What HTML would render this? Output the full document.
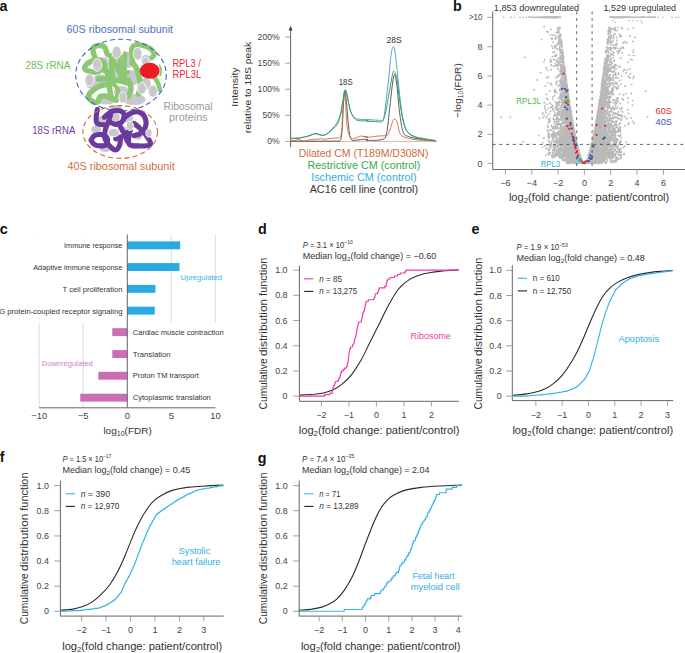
<!DOCTYPE html>
<html><head><meta charset="utf-8"><title>Figure</title>
<style>
html,body{margin:0;padding:0;background:#fff;}
body{width:685px;height:653px;overflow:hidden;}
svg{display:block;font-family:"Liberation Sans",sans-serif;}
</style></head>
<body>
<svg width="685" height="653" viewBox="0 0 685 653">
<rect width="685" height="653" fill="#fff"/>
<text x="-0.5" y="10.8" font-size="14.3" fill="#111" font-weight="bold">a</text>
<text x="453.0" y="10.5" font-size="14.3" fill="#111" font-weight="bold">b</text>
<text x="-0.3" y="234.2" font-size="14.3" fill="#111" font-weight="bold">c</text>
<text x="258.0" y="234.1" font-size="14.3" fill="#111" font-weight="bold">d</text>
<text x="471.6" y="234.4" font-size="14.3" fill="#111" font-weight="bold">e</text>
<text x="-0.3" y="461.9" font-size="14.3" fill="#111" font-weight="bold">f</text>
<text x="257.8" y="462.5" font-size="14.3" fill="#111" font-weight="bold">g</text>
<ellipse cx="117.5" cy="62.0" rx="8.0" ry="9.0" fill="#c9c9cd" stroke="none" stroke-width="0"/>
<ellipse cx="128.0" cy="60.0" rx="7.0" ry="8.0" fill="#c9c9cd" stroke="none" stroke-width="0"/>
<ellipse cx="104.0" cy="64.0" rx="5.0" ry="7.0" fill="#c9c9cd" stroke="none" stroke-width="0"/>
<ellipse cx="113.0" cy="75.0" rx="8.0" ry="8.0" fill="#c9c9cd" stroke="none" stroke-width="0"/>
<ellipse cx="131.0" cy="78.0" rx="8.0" ry="8.0" fill="#c9c9cd" stroke="none" stroke-width="0"/>
<ellipse cx="100.0" cy="80.0" rx="7.0" ry="6.0" fill="#c9c9cd" stroke="none" stroke-width="0"/>
<ellipse cx="106.0" cy="99.0" rx="10.0" ry="5.5" fill="#c9c9cd" stroke="none" stroke-width="0"/>
<ellipse cx="134.0" cy="99.5" rx="11.5" ry="5.5" fill="#c9c9cd" stroke="none" stroke-width="0"/>
<ellipse cx="122.0" cy="92.0" rx="8.0" ry="6.0" fill="#c9c9cd" stroke="none" stroke-width="0"/>
<ellipse cx="145.0" cy="84.0" rx="6.0" ry="6.0" fill="#c9c9cd" stroke="none" stroke-width="0"/>
<ellipse cx="92.0" cy="84.0" rx="6.0" ry="5.0" fill="#c9c9cd" stroke="none" stroke-width="0"/>
<ellipse cx="146.0" cy="60.0" rx="5.0" ry="5.0" fill="#c9c9cd" stroke="none" stroke-width="0"/>
<ellipse cx="153.0" cy="90.0" rx="5.0" ry="5.0" fill="#c9c9cd" stroke="none" stroke-width="0"/>
<path d="M95.1,57.7 C94.8,56.7 93.3,53.5 93.1,51.8 C92.9,50.0 92.8,48.2 93.8,47.2 C94.8,46.2 97.3,45.7 99.1,45.6 C100.8,45.5 103.1,45.7 104.3,46.6 C105.5,47.5 105.8,49.9 106.3,51.2 C106.8,52.5 106.7,53.7 107.6,54.5 C108.5,55.3 110.8,55.8 111.5,56.0" fill="none" stroke="#8cc873" stroke-width="5.5" stroke-linejoin="round" stroke-linecap="round"/>
<path d="M110.2,79.4 C109.5,78.0 107.4,73.6 106.3,70.9 C105.2,68.2 105.0,64.9 103.7,63.0 C102.4,61.1 100.4,60.0 98.4,59.7 C96.4,59.4 93.9,60.1 91.8,61.0 C89.7,61.9 87.2,63.7 86.0,65.0 C84.8,66.3 84.4,67.9 84.8,68.9 C85.2,69.9 86.9,70.5 88.5,71.0 C90.1,71.5 92.6,72.2 94.5,72.2 C96.4,72.2 98.8,71.1 99.7,70.9" fill="none" stroke="#8cc873" stroke-width="5.5" stroke-linejoin="round" stroke-linecap="round"/>
<path d="M100.5,60.5 C100.7,61.5 100.8,64.6 101.5,66.5 C102.2,68.4 104.0,71.1 104.5,72.0" fill="none" stroke="#8cc873" stroke-width="3.5" stroke-linejoin="round" stroke-linecap="round"/>
<path d="M111.5,56.0 C111.5,57.7 111.7,62.0 111.8,66.0 C111.9,70.0 112.0,77.7 112.0,80.0" fill="none" stroke="#8cc873" stroke-width="5.5" stroke-linejoin="round" stroke-linecap="round"/>
<path d="M119.5,55.0 C119.6,56.8 119.8,62.0 120.0,66.0 C120.2,70.0 120.4,76.8 120.5,79.0" fill="none" stroke="#8cc873" stroke-width="4.6" stroke-linejoin="round" stroke-linecap="round"/>
<path d="M125.0,53.5 C124.9,55.6 124.6,61.6 124.5,66.0 C124.4,70.4 124.5,77.7 124.5,80.0" fill="none" stroke="#8cc873" stroke-width="4.6" stroke-linejoin="round" stroke-linecap="round"/>
<path d="M116.0,50.5 C116.0,51.3 115.5,54.3 116.0,55.5 C116.5,56.7 118.5,57.2 119.0,57.5" fill="none" stroke="#8cc873" stroke-width="3.5" stroke-linejoin="round" stroke-linecap="round"/>
<path d="M98.4,79.3 C99.9,79.2 104.5,78.3 107.6,78.5 C110.7,78.7 113.9,79.7 116.8,80.3 C119.7,80.9 122.5,81.6 124.7,82.2 C126.9,82.8 129.1,83.7 130.0,84.0" fill="none" stroke="#8cc873" stroke-width="5.5" stroke-linejoin="round" stroke-linecap="round"/>
<path d="M112.9,83.5 C110.7,84.0 103.5,84.7 99.7,86.2 C95.9,87.7 92.0,90.9 90.2,92.7 C88.4,94.5 88.4,95.8 88.8,97.3 C89.2,98.8 91.1,100.7 92.5,101.5 C93.9,102.3 96.1,102.6 97.2,102.2 C98.3,101.8 98.6,100.2 99.1,99.3 C99.6,98.4 99.1,97.2 100.0,96.7 C100.9,96.2 102.6,95.8 104.3,96.0 C106.0,96.2 108.2,97.3 110.2,98.0 C112.2,98.7 115.5,99.8 116.5,100.2" fill="none" stroke="#8cc873" stroke-width="5.5" stroke-linejoin="round" stroke-linecap="round"/>
<path d="M108.9,78.0 C109.0,79.7 109.3,85.0 109.6,88.1 C109.9,91.2 110.7,95.3 110.9,96.7" fill="none" stroke="#8cc873" stroke-width="5.5" stroke-linejoin="round" stroke-linecap="round"/>
<path d="M132.5,64.0 C132.4,62.2 131.9,55.7 131.8,53.0 C131.7,50.3 131.4,49.2 132.0,47.9 C132.6,46.6 133.3,45.4 135.1,45.0 C136.9,44.6 140.4,44.9 143.0,45.6 C145.6,46.3 149.0,47.8 150.9,49.2 C152.8,50.6 154.0,52.4 154.2,53.8 C154.4,55.1 152.5,56.7 152.2,57.3" fill="none" stroke="#8cc873" stroke-width="5.2" stroke-linejoin="round" stroke-linecap="round"/>
<path d="M133.1,63.0 C133.8,64.1 136.0,66.9 137.1,69.6 C138.2,72.3 139.0,76.3 139.5,79.4 C140.0,82.5 140.2,85.6 140.0,88.0 C139.8,90.4 138.8,93.0 138.5,94.0" fill="none" stroke="#8cc873" stroke-width="5.5" stroke-linejoin="round" stroke-linecap="round"/>
<path d="M128.5,80.0 C128.9,81.3 130.9,85.5 131.0,88.0 C131.1,90.5 130.2,93.1 129.0,95.0 C127.8,96.9 124.8,98.8 124.0,99.5" fill="none" stroke="#8cc873" stroke-width="5.5" stroke-linejoin="round" stroke-linecap="round"/>
<path d="M153.0,76.0 C153.8,77.0 156.3,79.7 157.5,82.0 C158.7,84.3 159.6,88.7 160.0,90.0" fill="none" stroke="#8cc873" stroke-width="4.6" stroke-linejoin="round" stroke-linecap="round"/>
<path d="M113.5,60.0 C114.2,61.7 116.6,67.3 118.0,70.0 C119.4,72.7 120.3,75.7 122.0,76.0 C123.7,76.3 127.0,72.7 128.0,72.0" fill="none" stroke="#8cc873" stroke-width="4.2" stroke-linejoin="round" stroke-linecap="round"/>
<path d="M114.0,84.0 C114.7,85.0 117.5,88.0 118.0,90.0 C118.5,92.0 117.2,95.0 117.0,96.0" fill="none" stroke="#8cc873" stroke-width="4.2" stroke-linejoin="round" stroke-linecap="round"/>
<path d="M159.6,65.2 C159.9,66.0 161.1,68.5 161.2,70.2 C161.3,71.9 160.4,74.6 160.2,75.5" fill="none" stroke="#8cc873" stroke-width="1.8" stroke-linejoin="round" stroke-linecap="round"/>
<ellipse cx="116.6" cy="52.4" rx="4.6" ry="6.2" fill="#c9c9cd" stroke="#fff" stroke-width="0.8"/>
<ellipse cx="137.6" cy="53.8" rx="4.4" ry="6.4" fill="#c9c9cd" stroke="#fff" stroke-width="0.8"/>
<ellipse cx="97.2" cy="65.0" rx="4.6" ry="6.3" fill="#c9c9cd" stroke="#fff" stroke-width="0.8"/>
<ellipse cx="89.4" cy="80.0" rx="4.6" ry="6.0" fill="#c9c9cd" stroke="#fff" stroke-width="0.8"/>
<ellipse cx="141.9" cy="88.3" rx="4.4" ry="5.9" fill="#c9c9cd" stroke="#fff" stroke-width="0.8"/>
<ellipse cx="152.8" cy="91.2" rx="4.6" ry="6.0" fill="#c9c9cd" stroke="#fff" stroke-width="0.8"/>
<ellipse cx="122.8" cy="97.5" rx="4.1" ry="5.6" fill="#c9c9cd" stroke="#fff" stroke-width="0.8"/>
<ellipse cx="145.5" cy="61.5" rx="3.8" ry="4.5" fill="#c9c9cd" stroke="#fff" stroke-width="0.8"/>
<ellipse cx="97.6" cy="68.0" rx="0.1" ry="0.1" fill="#c9c9cd" stroke="#fff" stroke-width="0.8"/>
<ellipse cx="149.7" cy="70.8" rx="10.0" ry="8.0" fill="#ec1c24" stroke="none" stroke-width="0"/>
<ellipse cx="121" cy="75" rx="45.3" ry="35.8" fill="none" stroke="#3f68b8" stroke-width="1.1" stroke-dasharray="5 3.2"/>
<ellipse cx="96.2" cy="129.5" rx="5.1" ry="4.1" fill="#c9c9cd" stroke="none" stroke-width="0"/>
<ellipse cx="105.4" cy="148.9" rx="6.1" ry="3.1" fill="#c9c9cd" stroke="none" stroke-width="0"/>
<ellipse cx="134.0" cy="145.9" rx="6.1" ry="3.1" fill="#c9c9cd" stroke="none" stroke-width="0"/>
<ellipse cx="115.7" cy="108.1" rx="6.1" ry="3.1" fill="#c9c9cd" stroke="none" stroke-width="0"/>
<ellipse cx="127.9" cy="118.3" rx="5.1" ry="4.6" fill="#c9c9cd" stroke="none" stroke-width="0"/>
<ellipse cx="118.7" cy="138.7" rx="5.1" ry="4.1" fill="#c9c9cd" stroke="none" stroke-width="0"/>
<ellipse cx="138.1" cy="135.7" rx="4.1" ry="4.1" fill="#c9c9cd" stroke="none" stroke-width="0"/>
<ellipse cx="115.7" cy="117.3" rx="4.1" ry="4.1" fill="#c9c9cd" stroke="none" stroke-width="0"/>
<ellipse cx="101.3" cy="120.3" rx="4.1" ry="4.1" fill="#c9c9cd" stroke="none" stroke-width="0"/>
<ellipse cx="123.8" cy="130.5" rx="4.1" ry="4.1" fill="#c9c9cd" stroke="none" stroke-width="0"/>
<path d="M97.3,109.6 C97.1,110.9 96.2,115.0 96.2,117.3 C96.2,119.6 95.7,122.1 97.3,123.4 C98.8,124.7 104.1,124.7 105.4,124.9" fill="none" stroke="#6a3a9e" stroke-width="5.1" stroke-linejoin="round" stroke-linecap="round"/>
<path d="M104.4,117.3 C105.6,116.3 108.8,112.7 111.6,111.6 C114.3,110.6 118.6,110.4 120.8,111.1 C122.9,111.9 124.3,114.3 124.3,116.2 C124.3,118.2 122.2,121.5 120.8,122.9 C119.3,124.2 117.4,124.5 115.7,124.4 C114.0,124.3 111.4,122.7 110.5,122.4" fill="none" stroke="#6a3a9e" stroke-width="5.1" stroke-linejoin="round" stroke-linecap="round"/>
<path d="M110.5,115.2 C110.2,116.2 109.4,119.0 108.5,121.3 C107.7,123.7 106.0,126.6 105.4,129.5 C104.8,132.4 104.2,136.0 104.9,138.7 C105.6,141.4 107.7,144.0 109.5,145.9 C111.3,147.7 114.0,150.1 115.7,150.0 C117.4,149.8 119.0,146.7 119.7,144.9 C120.5,143.0 120.2,139.7 120.3,138.7" fill="none" stroke="#6a3a9e" stroke-width="5.1" stroke-linejoin="round" stroke-linecap="round"/>
<path d="M91.1,140.3 C91.6,139.5 92.5,136.6 94.2,135.7 C95.9,134.7 99.2,134.3 101.3,134.6 C103.5,135.0 106.1,136.1 107.0,137.7 C107.8,139.3 107.6,143.0 106.5,144.3 C105.4,145.7 102.4,145.9 100.3,145.9 C98.3,145.9 95.7,145.3 94.2,144.3 C92.7,143.4 91.6,140.9 91.1,140.3" fill="none" stroke="#6a3a9e" stroke-width="5.1" stroke-linejoin="round" stroke-linecap="round"/>
<path d="M123.8,118.3 C125.0,117.4 128.4,114.2 131.0,113.2 C133.5,112.2 136.8,111.3 139.2,112.2 C141.5,113.0 144.3,115.7 145.3,118.3 C146.3,120.8 146.1,124.9 145.3,127.5 C144.4,130.0 142.1,132.2 140.2,133.6 C138.3,135.0 135.1,135.3 134.0,135.7" fill="none" stroke="#6a3a9e" stroke-width="5.1" stroke-linejoin="round" stroke-linecap="round"/>
<path d="M130.0,130.5 C129.8,132.8 127.6,141.3 128.9,143.8 C130.3,146.4 134.6,145.8 138.1,145.9 C141.7,146.0 149.0,146.0 150.4,144.3 C151.8,142.6 148.0,138.3 146.3,135.7 C144.6,133.0 142.2,130.5 140.2,128.5 C138.1,126.5 135.1,124.2 134.0,123.4" fill="none" stroke="#6a3a9e" stroke-width="5.1" stroke-linejoin="round" stroke-linecap="round"/>
<path d="M118.7,123.4 C119.2,124.4 120.6,127.5 121.8,129.5 C123.0,131.6 125.0,133.8 125.9,135.7 C126.7,137.5 126.7,139.9 126.9,140.8" fill="none" stroke="#6a3a9e" stroke-width="5.1" stroke-linejoin="round" stroke-linecap="round"/>
<path d="M115.7,138.7 C117.0,138.2 121.4,137.0 123.8,135.7 C126.2,134.3 128.9,131.4 130.0,130.5" fill="none" stroke="#6a3a9e" stroke-width="5.1" stroke-linejoin="round" stroke-linecap="round"/>
<ellipse cx="113.6" cy="132.6" rx="5.6" ry="4.3" fill="#c9c9cd" stroke="#fff" stroke-width="0.8"/>
<ellipse cx="130.0" cy="125.9" rx="3.6" ry="4.6" fill="#c9c9cd" stroke="#fff" stroke-width="0.8"/>
<ellipse cx="148.9" cy="133.1" rx="3.1" ry="4.1" fill="#c9c9cd" stroke="#fff" stroke-width="0.8"/>
<ellipse cx="120.2" cy="132" rx="37.3" ry="26.4" fill="none" stroke="#cf6b3f" stroke-width="1.1" stroke-dasharray="5 3.2"/>
<text x="66.6" y="32.9" font-size="10.3" fill="#4f74bf" textLength="106.5" lengthAdjust="spacingAndGlyphs">60S ribosomal subunit</text>
<text x="25.5" y="68.5" font-size="10.3" fill="#6dbd59" textLength="45.0" lengthAdjust="spacingAndGlyphs">28S rRNA</text>
<text x="172.4" y="66.6" font-size="10.3" fill="#ec2a30" textLength="28.5" lengthAdjust="spacingAndGlyphs">RPL3 /</text>
<text x="172.4" y="78.3" font-size="10.3" fill="#ec2a30" textLength="29.0" lengthAdjust="spacingAndGlyphs">RPL3L</text>
<text x="163.5" y="109.5" font-size="10.3" fill="#9a9a9a" textLength="49.0" lengthAdjust="spacingAndGlyphs">Ribosomal</text>
<text x="169.0" y="121.2" font-size="10.3" fill="#9a9a9a" textLength="38.6" lengthAdjust="spacingAndGlyphs">proteins</text>
<text x="32.3" y="134.0" font-size="10.3" fill="#7040a8" textLength="43.0" lengthAdjust="spacingAndGlyphs">18S rRNA</text>
<text x="67.5" y="169.6" font-size="10.3" fill="#cf6e44" textLength="107.3" lengthAdjust="spacingAndGlyphs">40S ribosomal subunit</text>
<line x1="290.6" y1="29.0" x2="290.6" y2="147.2" stroke="#555" stroke-width="0.9"/>
<path d="M288.6,30.5 L290.6,25.8 L292.6,30.5 Z" fill="#444"/>
<line x1="285.3" y1="141.4" x2="290.6" y2="141.4" stroke="#8a8a8a" stroke-width="0.8"/>
<text x="279.6" y="144.4" font-size="8.6" fill="#444" text-anchor="end" textLength="12.4" lengthAdjust="spacingAndGlyphs">0%</text>
<line x1="285.3" y1="115.3" x2="290.6" y2="115.3" stroke="#8a8a8a" stroke-width="0.8"/>
<text x="279.6" y="118.3" font-size="8.6" fill="#444" text-anchor="end" textLength="17.2" lengthAdjust="spacingAndGlyphs">50%</text>
<line x1="285.3" y1="89.2" x2="290.6" y2="89.2" stroke="#8a8a8a" stroke-width="0.8"/>
<text x="279.6" y="92.2" font-size="8.6" fill="#444" text-anchor="end" textLength="22.0" lengthAdjust="spacingAndGlyphs">100%</text>
<line x1="285.3" y1="63.2" x2="290.6" y2="63.2" stroke="#8a8a8a" stroke-width="0.8"/>
<text x="279.6" y="66.2" font-size="8.6" fill="#444" text-anchor="end" textLength="22.0" lengthAdjust="spacingAndGlyphs">150%</text>
<line x1="285.3" y1="37.1" x2="290.6" y2="37.1" stroke="#8a8a8a" stroke-width="0.8"/>
<text x="279.6" y="40.1" font-size="8.6" fill="#444" text-anchor="end" textLength="22.0" lengthAdjust="spacingAndGlyphs">200%</text>
<text x="238.1" y="87.0" font-size="9.8" fill="#333" text-anchor="middle" textLength="39.3" lengthAdjust="spacingAndGlyphs" transform="rotate(-90 238.1 87.0)">Intensity</text>
<text x="251.3" y="87.5" font-size="9.8" fill="#333" text-anchor="middle" textLength="91.4" lengthAdjust="spacingAndGlyphs" transform="rotate(-90 251.3 87.5)">relative to 18S peak</text>
<line x1="290.6" y1="141.4" x2="437.0" y2="141.4" stroke="#c9a58e" stroke-width="0.8"/>
<path d="M290.6,141.2 C294.0,141.2 304.0,141.2 311.4,141.2 C318.7,141.2 330.0,141.1 334.7,141.1 C339.4,141.1 338.3,141.5 339.4,141.0 C340.5,140.5 340.7,140.3 341.1,138.1 C341.6,135.8 341.9,133.2 342.3,127.6 C342.7,121.9 343.0,110.2 343.5,104.2 C343.9,98.2 344.5,91.7 345.0,91.4 C345.5,91.0 345.9,96.8 346.4,101.9 C346.9,106.9 347.6,116.1 348.1,121.7 C348.7,127.4 349.3,132.7 349.9,135.7 C350.5,138.7 351.1,139.0 351.6,139.8 C352.2,140.6 351.6,140.5 353.4,140.4 C355.3,140.3 360.3,139.6 362.7,139.5 C365.2,139.3 367.3,139.3 368.0,139.5 C368.7,139.6 364.9,140.3 367.0,140.3 C369.2,140.3 377.9,140.7 381.1,139.6 C384.4,138.5 385.0,139.6 386.4,134.0 C387.9,128.3 388.9,114.3 390.0,105.8 C391.0,97.3 391.8,88.1 392.6,82.9 C393.4,77.6 394.0,73.8 394.7,74.4 C395.4,75.0 396.2,80.0 397.0,86.4 C397.8,92.8 398.6,105.2 399.6,112.8 C400.7,120.5 401.6,128.2 403.2,132.2 C404.8,136.2 406.3,135.6 409.3,136.8 C412.4,138.0 417.3,138.6 421.7,139.3 C426.1,139.9 433.4,140.3 435.8,140.5" fill="none" stroke="#333" stroke-width="0.8" stroke-linejoin="round"/>
<path d="M290.6,140.6 C291.3,140.6 293.7,140.6 295.0,140.4 C296.3,140.2 297.1,139.4 298.5,139.5 C299.9,139.6 301.6,141.0 303.2,141.1 C304.7,141.2 306.3,140.4 307.9,140.2 C309.4,139.9 310.8,139.7 312.5,139.5 C314.3,139.3 316.8,139.1 318.4,139.0 C319.9,138.9 320.9,138.6 321.9,138.6 C322.8,138.7 323.0,139.2 324.2,139.2 C325.4,139.2 327.1,138.8 328.9,138.6 C330.6,138.5 333.2,138.2 334.7,138.1 C336.3,138.0 337.2,138.4 338.2,138.1 C339.2,137.7 339.9,137.5 340.6,136.0 C341.2,134.4 341.6,133.0 342.0,128.7 C342.3,124.4 342.4,116.5 342.9,110.0 C343.3,103.6 344.1,90.2 344.6,90.2 C345.2,90.2 345.7,104.2 346.0,110.0 C346.4,115.9 346.6,121.5 347.0,125.2 C347.3,128.9 347.5,130.1 348.1,132.2 C348.8,134.4 350.2,137.0 351.1,138.1 C351.9,139.2 352.2,139.0 353.4,138.8 C354.6,138.6 356.7,137.3 358.1,136.9 C359.4,136.5 359.9,136.0 361.6,136.1 C363.2,136.1 367.7,137.2 368.0,137.2 C368.3,137.3 363.1,136.6 363.5,136.6 C364.0,136.6 368.2,137.2 370.6,137.1 C372.9,137.0 375.0,136.4 377.6,136.1 C380.3,135.8 384.5,136.0 386.4,135.4 C388.3,134.7 388.0,134.5 389.1,132.2 C390.1,129.9 391.7,123.8 392.6,121.6 C393.5,119.4 393.6,119.0 394.4,119.0 C395.1,119.0 396.1,119.4 397.0,121.6 C397.9,123.8 398.6,129.7 399.6,132.2 C400.7,134.7 401.0,135.4 403.2,136.6 C405.4,137.8 409.5,138.6 412.9,139.3 C416.2,139.9 419.6,140.0 423.4,140.3 C427.3,140.6 433.7,140.9 435.8,141.0" fill="none" stroke="#d0683c" stroke-width="0.9" stroke-linejoin="round"/>
<path d="M290.6,138.1 C292.1,138.0 296.6,138.2 299.7,137.8 C302.8,137.5 306.4,136.6 309.0,136.0 C311.6,135.3 313.3,134.1 315.4,134.0 C317.6,133.9 320.0,135.4 321.9,135.5 C323.7,135.6 325.0,135.1 326.5,134.3 C328.1,133.5 329.5,132.4 331.2,130.8 C333.0,129.2 335.5,127.2 337.1,124.6 C338.6,122.0 339.6,119.2 340.6,115.3 C341.5,111.4 342.2,105.5 342.9,101.3 C343.6,97.1 344.3,91.3 345.0,90.2 C345.7,89.1 346.2,91.7 347.0,94.9 C347.8,98.0 348.8,105.3 349.9,108.9 C351.0,112.5 352.0,114.7 353.4,116.5 C354.8,118.2 355.6,118.6 358.1,119.1 C360.5,119.7 366.5,119.7 368.0,119.7 C369.5,119.8 365.4,119.4 367.0,119.5 C368.7,119.6 375.3,120.1 377.6,120.2 C380.0,120.3 380.1,120.6 381.1,120.2 C382.2,119.9 382.6,124.3 383.8,118.1 C385.0,111.9 387.0,93.1 388.2,82.9 C389.4,72.6 390.0,62.5 390.8,56.4 C391.7,50.4 392.4,47.3 393.1,46.7 C393.9,46.2 394.4,47.8 395.2,52.9 C396.0,58.0 396.9,68.2 397.9,77.6 C398.9,87.0 400.1,100.8 401.4,109.3 C402.7,117.8 403.9,124.3 405.8,128.7 C407.7,133.1 409.9,134.1 412.9,135.7 C415.8,137.3 419.6,137.5 423.4,138.4 C427.3,139.2 433.7,140.3 435.8,140.7" fill="none" stroke="#4ba7d9" stroke-width="1.0" stroke-linejoin="round"/>
<path d="M290.6,138.6 C292.1,138.6 296.6,138.6 299.7,138.1 C302.8,137.6 306.4,136.5 309.0,135.7 C311.6,135.0 313.3,133.5 315.4,133.4 C317.6,133.3 320.0,135.0 321.9,135.1 C323.7,135.2 325.0,134.9 326.5,134.0 C328.1,133.1 329.5,131.7 331.2,129.9 C333.0,128.0 335.5,125.6 337.1,122.9 C338.6,120.2 339.6,117.2 340.6,113.5 C341.5,109.8 342.2,104.6 342.9,100.7 C343.6,96.8 344.3,91.2 345.0,90.2 C345.7,89.2 346.2,91.7 347.0,94.9 C347.8,98.0 348.8,105.2 349.9,108.9 C351.0,112.6 352.0,115.1 353.4,117.0 C354.8,119.0 355.6,119.9 358.1,120.5 C360.5,121.2 366.5,120.7 368.0,120.8 C369.5,120.9 365.4,121.1 367.0,121.3 C368.7,121.4 375.3,121.5 377.6,121.6 C379.9,121.7 379.6,122.9 380.8,122.0 C382.0,121.1 383.3,121.1 384.7,116.3 C386.0,111.6 387.8,100.5 389.1,93.4 C390.4,86.4 391.7,77.7 392.6,74.1 C393.5,70.4 393.6,70.9 394.4,71.8 C395.1,72.6 396.1,74.6 397.0,79.3 C397.9,84.1 398.6,93.4 399.6,100.5 C400.7,107.5 401.9,116.3 403.2,121.6 C404.5,126.9 405.4,129.6 407.6,132.2 C409.8,134.8 411.7,136.0 416.4,137.5 C421.1,139.0 432.5,140.4 435.8,141.0" fill="none" stroke="#3f9e4f" stroke-width="1.0" stroke-linejoin="round"/>
<text x="338.7" y="84.6" font-size="8.8" fill="#333" textLength="14.0" lengthAdjust="spacingAndGlyphs">18S</text>
<text x="386.6" y="42.5" font-size="8.8" fill="#333" textLength="15.2" lengthAdjust="spacingAndGlyphs">28S</text>
<text x="363.6" y="157.1" font-size="10.4" fill="#cf6a40" text-anchor="middle" textLength="129.6" lengthAdjust="spacingAndGlyphs">Dilated CM (T189M/D308N)</text>
<text x="363.9" y="168.9" font-size="10.4" fill="#3aa650" text-anchor="middle" textLength="112.8" lengthAdjust="spacingAndGlyphs">Restrictive CM (control)</text>
<text x="363.9" y="181.2" font-size="10.4" fill="#35ace2" text-anchor="middle" textLength="105.4" lengthAdjust="spacingAndGlyphs">Ischemic CM (control)</text>
<text x="363.9" y="192.5" font-size="10.4" fill="#333" text-anchor="middle" textLength="108.4" lengthAdjust="spacingAndGlyphs">AC16 cell line (control)</text>
<path d="M570.5 153.6h0M588.0 158.3h0M588.4 157.1h0M589.7 155.0h0M575.3 159.4h0M572.7 150.6h0M567.2 87.2h0M564.3 125.9h0M589.7 162.6h0M580.9 160.4h0M576.2 141.0h0M588.6 162.5h0M584.2 163.2h0M579.6 161.5h0M577.6 146.5h0M587.2 160.0h0M600.3 157.9h0M593.0 137.7h0M577.9 160.2h0M601.8 95.4h0M598.7 118.4h0M579.7 159.9h0M581.7 160.3h0M595.1 139.9h0M594.5 136.9h0M584.7 163.0h0M604.1 143.5h0M558.4 98.4h0M573.0 159.3h0M554.6 128.5h0M570.9 119.7h0M587.6 163.1h0M576.8 144.8h0M602.6 91.1h0M556.9 108.2h0M597.1 126.7h0M589.6 153.2h0M589.0 160.4h0M592.8 145.2h0M622.1 52.7h0M579.2 154.3h0M587.5 159.2h0M583.3 163.0h0M559.7 112.2h0M575.4 150.7h0M571.5 154.3h0M579.6 156.4h0M591.2 163.1h0M572.8 124.1h0M566.7 140.9h0M579.4 155.1h0M591.2 157.5h0M561.0 87.7h0M599.8 154.3h0M572.1 137.7h0M592.9 162.9h0M586.6 163.1h0M570.1 130.1h0M595.1 129.2h0M579.6 153.2h0M578.5 153.0h0M603.2 93.6h0M579.2 152.2h0M596.2 148.0h0M593.3 141.1h0M585.6 162.6h0M588.5 159.4h0M559.9 50.5h0M599.7 115.0h0M559.1 98.1h0M610.4 151.7h0M581.9 162.2h0M578.3 150.4h0M580.3 162.3h0M570.3 133.8h0M587.3 162.2h0M572.8 136.1h0M591.9 144.7h0M567.3 150.4h0M568.1 118.8h0M608.9 102.5h0M578.0 161.5h0M603.1 108.2h0M604.1 93.5h0M588.3 160.5h0M594.5 151.6h0M603.5 156.7h0M590.7 149.5h0M574.7 152.4h0M585.4 163.2h0M570.4 126.3h0M580.3 163.1h0M578.3 163.3h0M571.2 156.2h0M571.6 115.8h0M552.1 39.2h0M590.9 159.2h0M577.5 150.3h0M595.7 127.8h0M588.9 155.4h0M581.3 159.2h0M567.2 110.7h0M590.8 147.3h0M598.4 144.2h0M568.3 151.1h0M587.6 161.0h0M590.8 161.0h0M600.7 99.9h0M573.2 139.4h0M570.9 147.7h0M559.3 131.8h0M580.4 158.7h0M579.0 159.6h0M589.5 155.7h0M591.6 145.7h0M584.7 162.8h0M577.8 155.5h0M571.4 131.5h0M566.8 118.4h0M574.4 142.0h0M579.8 156.6h0M620.0 103.6h0M595.0 149.8h0M573.7 157.2h0M597.9 151.4h0M586.8 163.3h0M577.1 148.3h0M590.7 152.7h0M570.0 106.8h0M591.0 154.4h0M597.0 120.5h0M589.6 163.0h0M558.1 109.7h0M593.6 153.1h0M589.8 160.9h0M580.8 163.3h0M607.0 124.2h0M582.2 162.7h0M607.7 66.3h0M577.7 148.0h0M599.2 133.4h0M568.8 153.5h0M570.3 156.9h0M588.6 157.9h0M607.0 119.6h0M568.4 144.1h0M577.6 145.3h0M572.1 146.3h0M595.4 137.3h0M592.6 141.2h0M558.3 144.1h0M573.3 144.6h0M576.0 158.0h0M597.2 144.0h0M589.6 158.9h0M602.3 109.3h0M599.8 110.4h0M580.5 158.3h0M603.8 89.7h0M581.8 161.9h0M594.6 136.4h0M595.4 125.6h0M568.5 148.3h0M589.3 158.6h0M577.7 160.6h0M594.4 152.9h0M568.4 114.9h0M566.8 106.8h0M602.0 134.8h0M596.0 129.1h0M579.2 152.9h0M593.3 158.4h0M610.9 62.3h0M574.6 134.8h0M592.4 157.0h0M596.4 133.9h0M582.2 161.4h0M587.6 161.3h0M583.3 162.6h0M572.9 124.8h0M597.3 159.9h0M596.9 125.1h0M598.1 116.7h0M571.5 118.0h0M590.7 158.8h0M586.4 161.6h0M588.3 162.3h0M565.6 147.8h0M578.4 155.2h0M591.3 151.8h0M592.5 143.2h0M595.4 151.6h0M598.2 147.1h0M578.8 154.3h0M597.3 155.4h0M598.9 123.5h0M563.4 155.4h0M590.8 149.0h0M607.9 134.8h0M575.3 143.9h0M601.2 108.0h0M572.6 138.1h0M575.6 150.7h0M594.9 135.9h0M575.4 148.3h0M581.8 160.8h0M608.0 101.4h0M590.3 152.1h0M582.6 163.3h0M592.7 162.7h0M573.1 140.9h0M576.4 151.2h0M567.0 107.7h0M575.8 143.1h0M573.3 125.6h0M596.7 127.4h0M595.7 139.1h0M603.0 115.5h0M601.8 113.5h0M580.1 159.1h0M571.8 156.9h0M592.6 153.7h0M604.6 138.9h0M610.6 44.5h0M590.8 161.1h0M581.6 163.4h0M593.3 149.0h0M564.1 78.7h0M598.2 124.8h0M593.5 149.8h0M613.0 40.1h0M578.6 152.2h0M588.9 162.8h0M566.6 142.2h0M569.1 109.8h0M597.6 112.3h0M572.5 130.5h0M594.9 163.0h0M597.8 129.7h0M593.0 139.2h0M600.2 111.2h0M598.5 134.7h0M581.1 159.5h0M594.4 140.1h0M589.0 162.0h0M588.2 157.8h0M592.3 162.4h0M572.0 122.0h0M557.1 61.8h0M563.9 152.5h0M592.0 161.8h0M574.1 136.9h0M578.4 161.2h0M557.9 150.0h0M596.5 147.2h0M571.5 121.3h0M568.0 106.4h0M598.1 155.8h0M572.5 133.1h0M593.6 136.6h0M573.1 150.9h0M610.5 145.8h0M573.1 125.8h0M610.8 157.0h0M592.7 145.8h0M570.0 123.4h0M602.1 144.4h0M603.2 81.5h0M598.2 159.7h0M574.9 149.4h0M592.2 147.1h0M580.4 159.9h0M602.4 135.1h0M576.0 145.7h0M590.0 155.4h0M591.3 146.3h0M569.7 107.9h0M602.4 117.6h0M571.8 129.1h0M591.0 150.4h0M598.4 117.9h0M596.9 159.8h0M572.2 118.7h0M592.0 143.0h0M594.2 142.9h0M621.7 107.6h0M593.0 152.7h0M600.3 105.8h0M566.6 91.3h0M577.2 152.7h0M595.5 134.1h0M572.4 131.6h0M575.6 157.5h0M594.6 142.6h0M571.6 155.6h0M600.7 140.5h0M575.6 143.4h0M592.3 146.4h0M590.8 150.9h0M619.6 115.3h0M568.9 145.2h0M568.4 114.3h0M618.6 66.4h0M603.8 75.6h0M594.1 160.8h0M577.6 156.4h0M592.2 155.8h0M578.2 148.0h0M572.0 124.6h0M598.0 134.5h0M564.1 150.8h0M605.1 151.3h0M598.0 124.0h0M592.0 161.1h0M599.4 108.8h0M597.3 119.6h0M580.8 162.5h0M567.2 156.7h0M559.3 37.1h0M605.0 91.4h0M604.3 118.7h0M557.1 113.3h0M570.5 109.7h0M579.3 158.2h0M593.7 141.5h0M592.5 157.8h0M571.6 137.8h0M596.4 119.6h0M603.2 85.4h0M592.8 148.1h0M580.7 162.0h0M599.9 134.0h0M594.8 144.1h0M593.0 142.0h0M607.6 92.7h0M588.6 159.9h0M595.7 123.9h0M569.8 124.2h0M579.1 160.6h0M570.2 135.7h0M574.9 136.8h0M564.4 122.9h0M570.5 162.3h0M578.5 153.5h0M587.4 161.8h0M555.2 126.3h0M619.1 124.3h0M571.6 124.8h0M598.0 133.9h0M576.3 147.1h0M557.1 44.6h0M566.1 116.5h0M591.1 156.3h0M554.0 17.0h0M570.5 159.6h0M589.8 153.0h0M576.8 148.5h0M607.5 87.9h0M592.1 154.7h0M590.4 156.3h0M596.4 123.1h0M619.7 17.1h0M561.9 89.2h0M597.2 143.5h0M576.2 153.4h0M572.2 138.0h0M565.7 147.5h0M575.9 140.0h0M580.1 157.7h0M554.7 132.7h0M570.1 127.5h0M610.1 70.8h0M588.2 159.8h0M605.4 87.5h0M604.4 95.1h0M593.3 160.6h0M602.6 132.2h0M575.7 159.2h0M561.3 139.0h0M599.6 99.5h0M591.9 153.6h0M559.6 135.1h0M594.5 147.9h0M591.4 160.0h0M591.0 157.0h0M586.4 162.3h0M568.2 137.8h0M594.3 160.0h0M599.8 149.2h0M592.3 149.0h0M599.5 158.0h0M557.0 145.9h0M552.9 17.6h0M598.4 111.0h0M593.4 145.8h0M608.3 48.0h0M591.8 152.4h0M568.2 145.8h0M575.9 149.0h0M590.3 158.8h0M599.8 130.5h0M588.1 158.9h0M598.4 137.5h0M597.3 117.6h0M558.4 155.4h0M589.4 157.0h0M608.7 152.5h0M560.3 149.1h0M589.1 156.4h0M570.5 108.0h0M600.2 101.6h0M574.4 135.3h0M617.0 147.5h0M547.1 17.5h0M595.2 128.4h0M567.6 90.9h0M601.3 133.4h0M603.2 108.6h0M565.0 126.7h0M572.0 134.0h0M593.4 137.6h0M576.5 141.9h0M550.6 111.5h0M593.8 155.3h0M578.7 150.9h0M603.2 154.5h0M590.0 159.6h0M561.8 68.4h0M596.1 141.7h0M594.2 163.2h0M612.4 128.7h0M561.1 46.3h0M604.3 80.6h0M593.2 151.3h0M595.7 124.8h0M611.7 147.9h0M594.6 141.9h0M567.9 107.6h0M594.4 162.6h0M596.5 148.3h0M599.1 106.3h0M562.6 110.5h0M603.7 109.8h0M598.0 145.8h0M598.3 145.5h0M565.1 155.1h0M589.2 154.3h0M570.4 118.9h0M572.8 131.3h0M597.4 115.4h0M605.8 102.1h0M602.9 151.2h0M592.8 149.5h0M567.4 99.6h0M565.2 145.5h0M567.9 136.1h0M593.1 147.5h0M577.4 156.0h0M596.1 137.0h0M577.4 151.2h0M569.3 150.4h0M576.5 145.8h0M605.6 115.8h0M577.1 153.2h0M559.2 149.5h0M602.6 96.2h0M599.8 111.9h0M579.0 161.7h0M578.8 151.2h0M597.0 127.7h0M557.6 17.3h0M593.5 145.1h0M563.0 148.4h0M601.8 125.3h0M570.8 151.2h0M563.9 95.4h0M577.3 144.3h0M582.1 160.5h0M562.6 117.3h0M564.2 131.8h0M572.7 127.0h0M551.6 38.8h0M571.6 122.9h0M600.8 95.5h0M570.3 121.1h0M548.7 150.0h0M602.2 90.6h0M575.2 153.3h0M597.4 137.4h0M614.9 124.1h0M593.7 139.2h0M576.9 162.6h0M570.3 144.3h0M593.5 163.0h0M595.2 134.9h0M583.8 162.7h0M574.6 132.2h0M594.7 129.5h0M572.1 162.9h0M571.7 147.3h0M588.6 158.2h0M589.7 157.9h0M597.4 147.7h0M568.2 93.2h0M591.8 143.9h0M578.8 149.6h0M597.2 127.6h0M619.2 152.2h0M579.6 161.2h0M563.8 123.1h0M590.0 162.8h0M591.3 148.7h0M595.1 141.6h0M594.3 134.7h0M568.4 156.4h0M612.1 63.5h0M598.8 128.0h0M569.5 126.1h0M594.4 137.9h0M594.5 147.5h0M574.2 157.6h0M598.1 127.3h0M577.1 152.2h0M574.0 135.7h0M573.1 156.6h0M549.1 120.7h0M595.1 131.3h0M555.6 35.4h0M592.5 159.5h0M575.0 155.3h0M617.9 146.0h0M570.1 124.9h0M557.4 49.0h0M593.1 146.2h0M593.3 138.1h0M601.1 144.4h0M561.7 158.2h0M609.2 64.3h0M609.1 27.7h0M574.0 159.0h0M576.9 142.6h0M578.8 163.2h0M580.4 156.5h0M609.2 41.3h0M574.0 136.8h0M600.9 103.9h0M590.9 151.1h0M613.9 151.6h0M560.9 79.7h0M575.5 138.5h0M571.5 158.8h0M596.9 131.2h0M611.6 151.2h0M571.9 127.9h0M592.4 151.5h0M575.7 152.5h0M578.8 159.9h0M600.8 120.2h0M571.9 120.7h0M601.5 119.6h0M570.7 131.9h0M602.5 84.9h0M599.8 104.7h0M592.5 150.9h0M560.1 157.7h0M579.3 162.7h0M602.0 159.9h0M574.0 140.2h0M576.1 141.4h0M573.6 142.6h0M568.8 143.4h0M576.1 144.7h0M570.0 133.5h0M576.8 149.8h0M591.2 148.2h0M597.0 134.0h0M566.3 83.4h0M552.6 137.1h0M578.2 162.5h0M594.1 159.2h0M590.4 153.6h0M602.5 162.9h0M570.9 150.8h0M572.8 159.9h0M571.4 124.0h0M571.5 141.0h0M576.7 154.3h0M614.9 149.8h0M592.3 158.6h0M549.8 146.3h0M595.8 122.9h0M573.3 128.5h0M602.8 102.3h0M579.6 155.5h0M590.9 147.2h0M556.4 153.8h0M553.6 151.5h0M607.4 151.3h0M594.4 134.8h0M606.5 59.3h0M597.5 116.0h0M576.8 158.6h0M597.3 152.4h0M601.2 150.0h0M599.6 109.9h0M571.5 153.9h0M594.1 133.6h0M641.4 17.1h0M600.0 100.9h0M591.6 158.6h0M569.6 119.6h0M609.5 114.7h0M574.1 139.1h0M606.9 135.6h0M598.5 151.3h0M565.6 76.7h0M580.1 154.6h0M577.5 158.7h0M568.5 154.4h0M600.6 157.4h0M606.6 112.0h0M594.8 138.6h0M545.9 155.2h0M609.3 69.2h0M571.9 140.5h0M600.9 112.7h0M602.0 89.0h0M593.7 135.2h0M568.6 112.2h0M571.7 122.0h0M552.5 156.0h0M565.6 143.7h0M589.1 154.8h0M592.1 155.4h0M550.4 145.3h0M566.9 124.9h0M570.2 152.3h0M598.3 150.6h0M573.7 149.9h0M573.7 131.4h0M597.7 134.8h0M613.9 52.9h0M614.3 34.1h0M604.5 105.0h0M594.5 139.3h0M601.5 97.3h0M600.7 129.9h0M588.6 156.4h0M588.4 156.3h0M559.2 61.6h0M559.9 74.4h0M599.0 153.7h0M560.3 151.1h0M562.8 114.5h0M577.0 146.3h0M597.3 124.0h0M597.4 141.6h0M605.0 95.8h0M576.2 143.9h0M567.8 142.7h0M615.1 105.1h0M577.4 153.0h0M592.6 139.8h0M596.8 120.1h0M605.2 60.5h0M606.2 129.6h0M592.8 155.3h0M573.3 132.3h0M557.6 127.8h0M606.5 128.0h0M598.5 128.5h0M574.2 132.6h0M593.6 146.8h0M570.2 113.6h0M595.6 159.8h0M573.7 162.8h0M601.9 128.3h0M570.5 138.5h0M601.4 132.3h0M620.1 128.8h0M571.6 150.4h0M571.5 126.1h0M599.9 106.7h0M569.7 157.0h0M611.6 89.2h0M564.2 148.4h0M589.7 151.5h0M576.7 151.4h0M569.3 101.3h0M553.8 141.9h0M641.7 17.4h0M604.7 155.5h0M617.7 78.0h0M594.5 138.5h0M601.9 139.1h0M590.0 150.5h0M575.4 157.4h0M563.8 141.7h0M604.9 159.7h0M571.8 124.3h0M571.1 160.5h0M607.1 133.5h0M622.4 115.9h0M596.4 150.6h0M601.3 146.6h0M601.8 141.2h0M594.4 156.7h0M595.3 130.7h0M593.3 143.2h0M594.5 161.7h0M590.6 148.0h0M572.1 143.4h0M577.6 152.1h0M592.8 142.1h0M601.4 153.7h0M567.4 137.9h0M571.7 162.0h0M589.1 154.0h0M601.1 150.8h0M571.8 157.4h0M598.5 112.8h0M597.9 125.9h0M601.1 108.7h0M574.9 146.8h0M555.5 154.4h0M576.4 156.3h0M621.4 152.6h0M569.5 147.7h0M574.2 151.0h0M601.8 83.5h0M577.8 147.5h0M589.8 161.7h0M560.2 128.6h0M604.4 145.8h0M601.2 99.1h0M615.7 159.9h0M595.7 130.1h0M599.0 139.2h0M608.4 39.1h0M611.2 17.3h0M569.9 145.1h0M597.9 128.1h0M575.5 140.7h0M578.0 148.4h0M594.9 155.2h0M603.1 96.3h0M575.2 152.7h0M603.3 112.9h0M565.8 132.1h0M563.3 95.5h0M616.1 68.7h0M571.8 160.8h0M541.5 17.5h0M599.7 117.3h0M564.4 68.2h0M567.3 102.6h0M595.4 131.7h0M565.0 146.6h0M605.5 76.1h0M601.9 115.4h0M608.6 65.6h0M603.4 151.7h0M592.2 160.4h0M617.9 128.0h0M569.8 106.3h0M556.3 152.7h0M590.9 149.7h0M573.1 133.4h0M556.3 17.1h0M575.9 160.2h0M596.7 158.1h0M573.7 139.7h0M577.7 154.5h0M605.7 67.5h0M591.1 162.8h0M609.4 155.0h0M578.7 155.7h0M596.2 131.8h0M615.4 116.6h0M547.7 82.6h0M591.2 155.2h0M556.4 118.9h0M577.4 162.9h0M594.6 155.9h0M595.9 154.6h0M599.1 134.2h0M552.7 138.3h0M605.5 146.5h0M596.4 129.4h0M576.4 150.6h0M562.2 104.1h0M600.9 102.2h0M605.1 140.5h0M598.1 113.9h0M599.2 113.0h0M597.7 116.7h0M575.6 154.0h0M579.4 155.6h0M598.1 159.4h0M572.8 149.2h0M575.8 139.0h0M595.4 127.7h0M577.2 145.2h0M598.8 152.8h0M569.8 121.1h0M606.3 102.1h0M613.5 117.3h0M601.1 149.9h0M567.7 110.1h0M599.1 124.6h0M576.2 149.7h0M593.7 160.0h0M560.7 95.6h0M574.3 148.1h0M579.1 159.6h0M564.9 93.9h0M595.9 131.3h0M601.2 110.3h0M618.1 118.5h0M579.2 156.8h0M571.1 116.4h0M558.3 69.3h0M593.7 154.3h0M555.5 91.1h0M570.0 109.5h0M572.9 152.4h0M602.6 116.7h0M559.7 139.4h0M605.1 152.0h0M596.8 135.9h0M596.0 139.8h0M571.5 115.0h0M621.0 114.8h0M604.6 89.0h0M567.6 148.8h0M598.5 110.1h0M598.9 111.2h0M573.8 135.8h0M599.6 134.9h0M546.8 16.9h0M567.0 109.8h0M594.5 146.7h0M557.6 140.4h0M571.7 151.0h0M560.5 41.5h0M574.4 138.2h0M544.2 17.2h0M578.0 147.2h0M594.6 141.1h0M599.3 107.1h0M566.6 110.3h0M598.9 125.9h0M556.3 151.3h0M561.7 99.4h0M545.4 17.6h0M573.4 126.7h0M564.8 127.2h0M565.3 151.8h0M611.2 137.8h0M562.5 140.7h0M600.5 103.5h0M567.6 116.0h0M564.6 135.2h0M595.1 126.8h0M574.0 132.8h0M571.1 129.8h0M629.0 16.9h0M595.2 161.0h0M604.2 146.4h0M571.7 148.3h0M574.6 146.0h0M599.7 119.7h0M564.2 87.7h0M626.3 142.3h0M596.5 142.6h0M603.0 84.7h0M605.5 76.8h0M571.4 152.3h0M595.6 143.7h0M573.6 151.6h0M572.7 121.1h0M578.6 157.4h0M568.9 132.4h0M615.3 108.1h0M603.2 131.9h0M591.6 145.5h0M600.1 115.6h0M573.3 128.1h0M576.9 144.0h0M577.6 149.4h0M567.7 98.6h0M580.5 157.8h0M591.8 149.8h0M567.2 147.0h0M598.6 139.9h0M608.8 48.1h0M602.5 114.7h0M575.4 139.0h0M607.8 149.0h0M578.2 149.7h0M576.2 155.3h0M600.3 138.3h0M595.0 133.3h0M594.9 133.2h0M573.0 153.6h0M564.0 114.8h0M616.8 84.0h0M569.1 125.8h0M574.1 129.6h0M567.1 111.4h0M575.3 163.3h0M571.8 154.6h0M574.5 156.0h0M568.1 159.9h0M610.8 50.5h0M601.5 114.4h0M569.3 158.1h0M610.0 146.8h0M571.7 116.8h0M594.7 145.6h0M593.5 144.3h0M547.2 17.2h0M565.4 145.0h0M592.6 158.2h0M559.4 90.1h0M563.1 160.3h0M563.5 85.8h0M561.7 65.4h0M564.3 62.6h0M590.7 154.6h0M594.9 140.6h0M557.2 147.4h0M575.5 144.7h0M593.0 152.1h0M611.8 162.5h0M626.4 17.2h0M596.5 142.0h0M577.0 163.2h0M596.8 153.7h0M599.8 108.9h0M592.4 150.8h0M569.0 117.0h0M600.8 112.4h0M620.2 36.8h0M593.7 134.4h0M577.7 159.2h0M599.2 107.7h0M604.1 97.2h0M566.0 100.3h0M599.3 124.0h0M608.1 137.2h0M601.2 106.2h0M599.2 119.8h0M599.4 103.0h0M598.5 149.8h0M616.3 132.8h0M606.1 69.2h0M602.5 156.7h0M604.7 87.2h0M596.2 138.0h0M613.6 37.6h0M572.4 129.4h0M599.6 125.1h0M599.0 158.3h0M609.6 41.8h0M570.1 154.3h0M570.2 107.5h0M547.8 148.4h0M572.5 134.6h0M599.1 141.4h0M604.4 156.9h0M602.4 134.2h0M566.3 84.2h0M558.7 114.9h0M607.4 148.3h0M604.0 73.7h0M572.4 141.8h0M602.5 83.4h0M572.2 136.0h0M576.0 147.7h0M573.8 145.8h0M590.5 157.8h0M605.3 96.3h0M568.6 103.0h0M598.6 154.3h0M552.1 106.8h0M572.5 122.7h0M608.6 105.4h0M594.0 162.6h0M601.8 112.0h0M615.2 30.6h0M559.8 48.0h0M575.5 145.3h0M603.9 126.7h0M575.3 139.9h0M560.8 119.5h0M562.1 156.0h0M552.9 109.6h0M593.5 147.9h0M600.9 155.0h0M596.9 132.0h0M596.4 125.5h0M581.2 158.7h0M597.3 121.5h0M569.9 117.9h0M607.8 78.5h0M566.7 140.2h0M600.6 93.2h0M590.1 161.6h0M593.4 152.1h0M575.1 141.6h0M567.6 92.0h0M566.4 143.7h0M560.4 70.6h0M596.1 136.0h0M590.4 156.7h0M613.0 93.4h0M605.2 86.7h0M618.1 17.0h0M572.7 123.6h0M620.0 127.6h0M565.4 155.4h0M572.5 137.0h0M573.7 141.1h0M570.4 140.4h0M573.6 150.7h0M567.8 153.7h0M602.8 86.9h0M596.4 119.8h0M608.7 145.4h0M594.5 153.3h0M622.3 17.3h0M566.0 147.0h0M569.9 142.2h0M572.9 140.2h0M550.2 147.3h0M604.6 96.9h0M567.0 88.7h0M568.4 94.5h0M608.7 130.7h0M564.3 130.3h0M566.6 87.9h0M597.8 159.0h0M555.4 107.3h0M570.4 140.2h0M620.4 130.0h0M601.6 143.5h0M598.2 130.0h0M555.7 56.3h0M591.5 144.9h0M598.7 152.9h0M561.6 155.4h0M559.7 105.0h0M595.9 149.9h0M576.0 161.6h0M570.2 114.7h0M600.6 143.7h0M608.7 138.4h0M595.7 158.7h0M604.3 100.5h0M602.3 100.0h0M601.6 110.7h0M572.8 137.6h0M572.5 148.7h0M616.2 152.5h0M590.9 161.8h0M569.7 104.8h0M561.3 92.6h0M597.4 132.4h0M557.0 152.4h0M564.2 76.9h0M572.8 138.8h0M569.9 124.7h0M600.3 107.1h0M601.9 103.6h0M574.9 155.8h0M570.5 137.6h0M565.6 126.0h0M563.8 74.2h0M576.4 147.3h0M556.6 155.0h0M604.3 115.5h0M590.1 150.0h0M598.9 118.1h0M571.6 115.8h0M590.0 152.1h0M572.6 145.4h0M566.9 139.3h0M574.7 137.8h0M601.2 114.3h0M589.2 153.0h0M591.8 159.1h0M604.4 115.3h0M573.7 130.4h0M563.3 110.2h0M599.3 101.7h0M576.7 143.2h0M572.4 131.5h0M569.9 141.6h0M593.5 140.1h0M574.5 148.6h0M595.3 142.2h0M567.0 151.8h0M607.0 70.4h0M608.1 155.6h0M571.2 120.7h0M615.2 17.6h0M570.2 147.8h0M610.8 91.7h0M567.3 153.7h0M596.6 148.9h0M598.1 120.9h0M599.5 118.9h0M565.3 137.0h0M571.4 133.2h0M569.7 109.0h0M555.0 55.8h0M555.8 135.4h0M564.2 107.7h0M574.2 130.9h0M613.7 118.2h0M569.0 111.1h0M599.4 142.1h0M575.4 151.4h0M608.0 67.8h0M563.5 157.1h0M556.1 140.3h0M606.3 126.9h0M571.0 110.5h0M603.4 155.6h0M571.9 130.5h0M593.0 154.2h0M553.8 111.0h0M602.4 133.5h0M567.3 157.2h0M602.4 153.6h0M600.0 148.4h0M542.9 117.6h0M597.8 145.1h0M566.5 157.8h0M567.4 137.1h0M609.0 155.0h0M612.0 131.0h0M575.5 146.1h0M561.0 96.2h0M572.7 147.3h0M591.7 148.2h0M578.6 158.0h0M598.0 120.2h0M604.0 103.9h0M564.6 116.4h0M573.4 161.9h0M596.2 127.0h0M563.7 149.3h0M563.8 83.4h0M598.4 121.6h0M544.8 59.8h0M595.5 147.4h0M602.6 108.5h0M599.7 120.4h0M575.7 162.6h0M571.4 114.5h0M621.7 76.1h0M587.5 158.8h0M609.2 97.0h0M594.2 157.4h0M574.6 133.8h0M554.6 156.9h0M568.5 130.6h0M606.1 61.2h0M613.7 148.9h0M592.0 150.2h0M565.3 150.9h0M600.0 100.3h0M569.7 118.2h0M594.9 162.2h0M561.8 147.8h0M569.6 147.5h0M595.7 137.9h0M597.6 113.4h0M601.6 86.8h0M596.4 122.4h0M574.1 161.3h0M599.3 102.7h0M610.1 127.3h0M572.4 148.3h0M567.8 157.4h0M604.5 125.4h0M566.7 99.7h0M607.7 58.3h0M599.4 154.6h0M575.7 137.3h0M557.7 112.7h0M564.5 144.0h0M574.8 162.3h0M567.9 108.7h0M573.2 155.3h0M600.9 116.6h0M602.7 152.5h0M572.1 142.1h0M572.0 125.5h0M556.9 105.5h0M573.1 128.6h0M576.5 156.9h0M562.6 57.5h0M605.0 145.0h0M603.4 148.7h0M562.6 151.8h0M595.6 127.1h0M596.1 125.4h0M597.9 126.8h0M568.2 141.1h0M600.8 98.1h0M573.2 160.5h0M572.9 129.3h0M604.5 129.3h0M603.7 79.9h0M548.1 32.1h0M569.4 116.0h0M614.6 108.9h0M608.6 92.4h0M600.6 163.2h0M599.7 125.2h0M573.2 127.7h0M613.8 86.4h0M613.9 113.5h0M574.0 144.4h0M571.4 155.5h0M595.1 143.7h0M595.5 161.6h0M599.0 150.9h0M574.8 158.9h0M600.8 149.1h0M619.1 150.3h0M565.5 77.4h0M555.8 77.7h0M566.3 149.4h0M620.1 122.9h0M565.6 138.8h0M603.0 109.7h0M592.1 142.3h0M602.7 148.5h0M564.2 103.8h0M612.7 151.4h0M594.9 159.2h0M556.2 119.8h0M568.8 157.3h0M565.0 125.0h0M599.2 131.3h0M567.9 119.0h0M607.0 110.7h0M569.8 114.8h0M616.1 145.6h0M597.2 121.9h0M560.8 58.5h0M596.2 121.7h0M596.1 140.6h0M573.9 152.8h0M568.9 100.7h0M569.3 140.9h0M571.9 153.2h0M606.1 126.1h0M567.2 85.7h0M570.7 125.9h0M567.3 148.8h0M571.6 159.0h0M562.3 159.9h0M597.8 120.7h0M599.6 121.3h0M595.4 156.9h0M599.8 144.9h0M573.3 133.5h0M601.7 129.5h0M609.3 67.6h0M563.4 111.8h0M568.8 134.5h0M560.6 34.2h0M573.3 138.0h0M562.4 85.7h0M604.2 83.8h0M618.8 111.6h0M573.8 147.9h0M605.1 65.4h0M564.7 82.2h0M607.1 125.9h0M615.3 113.0h0M563.2 84.5h0M569.2 113.5h0M604.6 100.3h0M574.5 144.3h0M604.8 98.7h0M566.1 122.6h0M551.1 130.3h0M577.1 159.2h0M599.5 105.2h0M574.8 158.4h0M564.5 141.4h0M602.6 155.9h0M568.4 124.1h0M564.6 152.8h0M573.1 126.0h0M569.1 147.2h0M595.1 136.9h0M573.2 138.1h0M576.3 163.2h0M550.6 17.6h0M570.5 157.6h0M604.6 146.5h0M589.5 160.0h0M592.2 152.0h0M574.9 137.8h0M612.3 90.5h0M597.5 156.2h0M607.1 125.1h0M592.9 148.5h0M596.4 146.9h0M558.0 102.3h0M570.1 129.3h0M571.7 139.7h0M563.5 71.7h0M602.9 92.5h0M561.1 49.8h0M601.0 118.2h0M601.8 155.8h0M574.5 144.7h0M566.5 85.6h0M574.8 148.7h0M607.4 119.1h0M575.6 142.8h0M574.3 142.6h0M569.4 111.2h0M578.1 157.2h0M566.3 93.0h0M566.0 149.1h0M609.1 139.8h0M558.5 144.4h0M563.3 102.3h0M591.7 163.0h0M601.8 117.3h0M595.8 134.6h0M566.3 159.0h0M599.8 103.8h0M562.1 129.8h0M617.4 106.6h0M557.7 125.5h0M576.1 160.7h0M567.2 106.6h0M590.9 153.5h0M573.4 147.2h0M568.7 138.7h0M602.6 79.3h0M593.8 135.8h0M599.3 145.5h0M592.5 155.7h0M609.0 143.8h0M610.8 145.4h0M576.8 159.9h0M594.4 148.7h0M562.4 47.4h0M572.0 136.7h0M576.0 142.2h0M564.5 125.9h0M563.5 81.2h0M601.3 95.9h0M560.8 98.9h0M617.7 148.5h0M553.8 147.3h0M570.0 128.7h0M566.5 162.3h0M597.6 142.2h0M611.3 156.1h0M575.1 152.1h0M569.5 112.1h0M605.1 73.8h0M569.9 162.0h0M567.0 138.8h0M615.3 105.6h0M610.2 84.8h0M565.5 92.6h0M597.9 119.5h0M620.6 58.2h0M598.1 114.0h0M599.2 152.1h0M567.7 102.2h0M563.1 158.1h0M569.2 128.2h0M595.4 149.0h0M614.2 134.2h0M563.0 52.0h0M598.2 153.6h0M561.0 130.5h0M614.5 74.2h0M600.7 160.6h0M596.4 154.6h0M594.8 152.1h0M569.7 128.9h0M566.6 103.8h0M610.0 35.5h0M570.0 151.8h0M560.7 35.6h0M573.7 127.0h0M600.5 121.2h0M567.1 91.7h0M606.5 150.6h0M614.1 61.0h0M610.2 114.6h0M560.8 82.9h0M549.7 134.8h0M565.8 100.6h0M565.9 116.0h0M576.8 154.9h0M614.3 146.4h0M572.9 152.7h0M596.6 144.9h0M598.9 104.7h0M598.7 123.5h0M573.7 162.0h0M600.2 103.4h0M594.4 150.2h0M574.1 130.4h0M548.1 154.0h0M593.6 142.8h0M601.9 118.6h0M555.3 155.8h0M595.8 156.4h0M578.1 149.0h0M569.2 123.8h0M572.1 117.6h0M564.7 90.1h0M595.8 126.6h0M559.7 38.2h0M594.7 131.7h0M570.7 118.0h0M567.5 95.5h0M566.1 95.8h0M550.3 152.6h0M600.0 156.6h0M610.5 48.3h0M606.3 147.8h0M610.7 110.2h0M600.2 141.0h0M562.7 137.6h0M564.5 103.4h0M602.7 106.8h0M566.9 86.7h0M545.0 17.4h0M568.4 110.4h0M569.1 106.6h0M599.3 157.0h0M559.5 101.2h0M605.0 79.9h0M559.0 41.1h0M599.6 123.1h0M568.0 109.6h0M562.7 120.3h0M603.0 141.4h0M598.4 128.3h0M603.6 161.1h0M564.7 88.4h0M547.3 116.1h0M595.4 153.7h0M606.8 57.2h0M603.2 133.9h0M594.9 144.9h0M567.7 103.5h0M563.7 136.3h0M605.7 129.3h0M566.5 130.5h0M597.2 133.1h0M542.4 147.1h0M544.8 16.9h0M596.9 138.0h0M593.1 161.0h0M595.7 143.5h0M562.9 70.8h0M554.8 92.6h0M562.0 118.5h0M602.6 158.1h0M568.6 136.2h0M569.2 124.5h0M603.6 89.6h0M600.7 158.7h0M562.3 72.2h0M569.9 114.0h0M558.2 133.2h0M564.1 86.4h0M602.9 120.7h0M595.8 142.8h0M596.5 159.1h0M565.5 80.8h0M572.3 149.8h0M575.4 161.1h0M594.3 131.3h0M594.6 152.1h0M603.4 106.7h0M602.9 78.2h0M591.8 157.7h0M567.1 140.0h0M565.1 115.9h0M620.3 131.5h0M596.3 132.7h0M568.6 146.6h0M561.8 75.2h0M564.9 74.7h0M561.7 150.3h0M563.0 145.8h0M573.8 142.0h0M571.3 127.4h0M563.0 133.3h0M570.7 124.2h0M596.8 139.0h0M568.7 102.7h0M606.6 72.5h0M603.4 132.6h0M559.4 157.3h0M605.9 74.5h0M601.9 99.9h0M606.8 153.2h0M609.5 137.2h0M552.4 17.2h0M569.0 149.7h0M593.1 136.7h0M615.5 121.6h0M586.7 161.0h0M607.9 41.2h0M576.3 156.3h0M621.7 17.6h0M569.3 103.2h0M569.0 122.3h0M568.6 149.0h0M596.2 148.5h0M553.5 146.5h0M566.9 121.7h0M599.5 109.2h0M599.6 108.2h0M562.9 56.7h0M574.2 140.5h0M570.9 117.8h0M565.2 95.0h0M571.7 134.8h0M602.2 122.7h0M608.8 119.9h0M574.7 153.9h0M577.9 161.8h0M617.6 130.7h0M564.3 117.7h0M564.6 159.4h0M607.3 73.0h0M576.8 161.2h0M600.0 122.0h0M605.1 117.5h0M601.8 126.9h0M604.9 94.3h0M577.2 157.6h0M597.2 122.4h0M558.7 131.4h0M574.1 150.0h0M593.1 138.4h0M597.0 130.2h0M564.8 80.2h0M572.6 161.1h0M571.7 126.6h0M578.0 157.8h0M566.3 121.1h0M598.4 152.4h0M550.3 61.7h0M571.5 122.4h0M612.4 72.3h0M568.3 99.9h0M603.6 124.6h0M569.5 157.2h0M616.7 103.6h0M605.4 64.5h0M603.7 68.6h0M600.7 154.8h0M607.4 94.2h0M565.7 90.0h0M601.9 118.9h0M564.2 89.0h0M571.0 149.5h0M597.1 129.9h0M563.3 87.0h0M570.0 108.8h0M604.1 67.7h0M607.7 137.2h0M565.0 68.8h0M566.4 81.7h0M597.2 115.1h0M566.9 84.4h0M568.5 95.9h0M566.4 150.6h0M555.5 63.5h0M597.3 152.5h0M604.4 84.6h0M562.1 55.8h0M603.7 119.4h0M572.8 146.5h0M571.2 113.9h0M599.4 149.1h0M571.9 162.4h0M566.2 152.2h0M604.0 135.5h0M571.3 132.0h0M606.8 89.5h0M603.6 142.4h0M566.9 154.6h0M592.7 144.3h0M571.7 119.0h0M607.9 98.6h0M610.8 131.0h0M603.2 111.2h0M597.0 118.8h0M602.5 92.4h0M607.4 102.1h0M549.3 141.7h0M570.3 137.2h0M612.3 126.8h0M552.3 133.7h0M572.0 143.7h0M564.2 137.9h0M577.1 160.4h0M610.2 125.6h0M655.1 17.1h0M620.0 126.6h0M610.7 97.0h0M566.0 152.5h0M564.6 144.5h0M568.2 149.2h0M596.9 137.0h0M577.9 153.8h0M571.0 159.8h0M570.4 132.9h0M604.3 107.2h0M566.6 84.7h0M575.4 136.4h0M595.0 148.3h0M596.3 151.2h0M597.6 153.2h0M563.2 70.5h0M601.9 141.4h0M572.0 123.6h0M601.3 145.6h0M559.6 152.4h0M605.2 131.5h0M606.4 106.3h0M619.8 144.2h0M578.3 159.6h0M608.2 56.0h0M563.0 77.8h0M606.6 152.1h0M570.9 125.9h0M600.4 159.6h0M608.1 154.3h0M561.6 143.0h0M572.8 121.9h0M568.4 152.5h0M620.6 141.0h0M561.2 71.4h0M595.9 150.5h0M601.0 117.9h0M599.5 140.5h0M560.7 127.2h0M577.7 162.5h0M606.5 143.1h0M563.9 140.7h0M594.8 155.8h0M601.3 123.5h0M599.9 160.4h0M566.6 114.1h0M593.2 150.2h0M568.4 105.2h0M604.7 81.5h0M592.4 156.9h0M574.3 150.1h0M563.4 63.1h0M561.3 52.5h0M571.2 129.1h0M609.4 140.9h0M555.4 128.6h0M566.0 86.7h0M575.9 146.8h0M567.7 106.9h0M602.4 110.3h0M563.8 137.2h0M570.5 155.3h0M594.8 130.5h0M605.2 68.0h0M568.5 127.5h0M565.5 156.8h0M613.1 66.7h0M621.1 120.3h0M560.4 120.1h0M564.0 147.4h0M599.9 118.2h0M599.2 132.6h0M567.0 131.5h0M546.1 112.7h0M542.6 17.5h0M567.2 122.5h0M573.7 154.4h0M562.5 75.2h0M595.6 143.3h0M570.5 143.2h0M563.2 144.2h0M561.0 62.3h0M569.8 140.2h0M572.5 161.5h0M606.0 135.2h0M562.2 154.0h0M561.1 43.8h0M605.2 126.4h0M580.5 156.2h0M594.3 154.4h0M608.4 57.2h0M616.9 17.6h0M602.5 111.7h0M564.2 134.0h0M618.9 144.2h0M562.4 50.2h0M568.1 154.7h0M565.3 110.3h0M578.9 150.6h0M568.3 105.5h0M604.7 62.1h0M596.5 128.9h0M561.1 56.1h0M551.8 136.2h0M619.7 80.4h0M598.4 141.9h0M566.2 89.4h0M598.6 108.0h0M564.9 70.2h0M567.3 115.1h0M598.4 160.5h0M620.1 151.6h0M601.6 136.5h0M566.1 99.0h0M600.0 119.2h0M574.2 142.9h0M598.5 125.5h0M604.5 112.4h0M556.9 132.8h0M565.8 143.0h0M569.4 122.0h0M596.8 155.2h0M565.2 153.8h0M563.5 78.3h0M574.0 128.8h0M610.1 128.7h0M564.1 152.1h0M594.3 158.6h0M597.4 158.2h0M553.2 136.2h0M602.3 97.4h0M601.2 124.3h0M548.8 133.3h0M557.7 32.8h0M598.5 116.3h0M600.8 153.2h0M560.6 52.1h0M604.8 103.1h0M593.9 153.6h0M612.8 17.3h0M605.4 144.4h0M595.5 152.8h0M568.3 144.9h0M568.7 120.5h0M594.6 155.2h0M554.5 17.7h0M568.9 123.5h0M622.2 28.8h0M613.7 17.1h0M608.5 57.0h0M560.2 127.9h0M614.5 29.3h0M594.5 132.7h0M566.8 135.1h0M570.4 146.2h0M567.2 100.8h0M567.4 103.6h0M571.3 142.7h0M601.9 102.0h0M566.8 155.1h0M571.0 152.7h0M565.9 146.4h0M612.0 133.2h0M613.9 133.1h0M619.2 17.4h0M562.1 54.3h0M613.2 152.4h0M569.7 102.7h0M612.9 158.3h0M598.3 135.7h0M597.4 147.4h0M591.2 153.0h0M601.3 157.1h0M571.3 134.2h0M601.0 145.6h0M555.6 134.7h0M604.6 98.9h0M604.1 151.3h0M593.6 155.7h0M598.2 109.6h0M600.3 142.7h0M602.0 94.7h0M603.3 99.6h0M615.2 29.5h0M556.6 48.4h0M552.5 155.4h0M595.8 155.3h0M599.3 117.6h0M564.0 139.4h0M562.7 112.4h0M571.6 148.7h0M612.2 137.4h0M611.7 67.5h0M570.9 161.8h0M607.5 139.9h0M563.2 140.4h0M598.1 143.3h0M566.9 156.2h0M609.5 83.2h0M607.9 103.2h0M560.8 69.2h0M611.6 145.8h0M563.9 65.0h0M569.6 120.1h0M605.5 105.2h0M614.2 17.1h0M593.5 161.8h0M600.5 124.7h0M571.3 119.5h0M571.8 152.7h0M602.4 82.4h0M603.8 150.1h0M598.5 109.2h0M556.9 118.0h0M556.5 102.9h0M596.1 153.7h0M614.7 142.7h0M565.1 115.4h0M600.8 93.3h0M603.9 92.8h0M611.3 17.1h0M549.2 138.1h0M596.5 135.2h0M570.2 156.2h0M600.9 133.5h0M605.8 156.5h0M566.5 126.2h0M560.4 51.0h0M623.4 47.3h0M558.6 32.7h0M563.9 145.2h0M607.9 33.7h0M563.3 116.0h0M565.9 107.2h0M567.8 133.9h0M571.2 130.3h0M608.3 31.3h0M592.5 162.0h0M600.9 91.5h0M563.4 83.6h0M572.8 142.1h0M547.7 125.8h0M565.6 109.5h0M579.5 158.0h0M562.5 139.6h0M596.8 117.7h0M573.8 134.5h0M571.8 159.7h0M602.3 103.4h0M570.1 122.5h0M557.2 134.6h0M609.8 111.9h0M614.7 48.0h0M571.9 132.9h0M597.3 138.6h0M574.7 154.9h0M565.3 72.3h0M562.3 61.0h0M603.5 72.8h0M599.6 144.2h0M615.8 100.1h0M611.2 61.4h0M594.9 158.7h0M597.8 111.2h0M596.2 153.2h0M600.6 116.2h0M575.9 151.8h0M607.1 50.8h0M613.1 57.9h0M599.6 153.7h0M595.1 159.7h0M620.3 149.0h0M570.0 163.0h0M555.5 155.2h0M602.3 145.4h0M603.5 97.6h0M602.9 96.4h0M626.1 93.6h0M603.7 79.2h0M600.2 114.4h0M600.5 131.7h0M554.5 95.7h0M600.3 102.2h0M572.5 162.6h0M604.5 119.1h0M565.0 72.8h0M604.1 122.5h0M617.8 27.4h0M572.5 142.8h0M544.9 145.9h0M559.5 140.4h0M558.6 151.8h0M557.8 134.2h0M563.3 60.8h0M561.2 67.9h0M596.8 155.7h0M596.0 134.9h0M604.1 102.2h0M557.1 17.5h0M574.0 142.9h0M571.5 149.0h0M557.5 37.6h0M599.4 115.8h0M565.8 96.0h0M603.1 143.8h0M608.2 139.0h0M574.1 158.5h0M562.3 86.2h0M570.4 130.8h0M565.2 122.1h0M563.1 118.8h0M613.8 143.0h0M564.8 85.7h0M559.2 63.7h0M564.3 143.1h0M557.4 114.1h0M601.7 93.6h0M575.9 154.4h0M569.2 99.7h0M565.2 132.7h0M612.4 141.1h0M566.4 155.6h0M567.5 132.3h0M600.0 150.8h0M605.8 99.9h0M605.0 59.8h0M607.3 133.2h0M573.8 134.8h0M566.0 150.8h0M618.4 154.7h0M579.6 153.6h0M560.3 148.2h0M615.7 149.8h0M611.5 160.0h0M573.7 153.3h0M553.3 17.5h0M552.9 52.2h0M617.7 118.8h0M604.2 148.6h0M572.9 157.3h0M553.7 144.9h0M610.7 126.8h0M560.1 89.2h0M562.9 130.5h0M599.1 112.0h0M609.0 137.3h0M598.7 132.1h0M601.5 86.4h0M606.2 153.7h0M560.2 135.5h0M612.7 134.7h0M593.5 159.2h0M611.4 94.0h0M610.9 80.4h0M603.1 74.5h0M566.8 101.0h0M603.8 137.2h0M616.6 89.2h0M606.7 47.1h0M620.6 152.0h0M604.4 131.3h0M566.3 78.7h0M616.8 43.1h0M605.5 147.6h0M569.8 148.5h0M579.6 153.2h0M620.3 158.6h0M611.3 150.6h0M602.1 100.8h0M603.7 120.4h0M556.0 46.3h0M568.2 120.9h0M616.4 138.7h0M563.5 69.4h0M605.5 71.4h0M566.4 135.4h0M603.2 103.6h0M594.8 154.2h0M605.4 128.1h0M612.5 154.3h0M598.6 146.6h0M598.6 158.8h0M601.1 122.5h0M572.3 139.0h0M620.8 149.1h0M572.8 143.9h0M566.6 97.1h0M551.0 60.4h0M601.0 142.1h0M567.6 129.7h0M596.7 124.2h0M558.9 124.3h0M610.4 28.0h0M609.1 94.4h0M597.3 149.0h0M597.3 133.6h0M575.1 134.0h0M604.5 113.3h0M554.2 17.1h0M619.8 136.1h0M599.5 115.1h0M602.7 159.4h0M569.5 136.3h0M562.9 143.5h0M567.4 124.2h0M568.8 131.4h0M614.6 141.1h0M602.4 146.2h0M570.4 113.0h0M615.7 17.6h0M598.6 157.8h0M604.4 128.9h0M606.9 77.7h0M615.0 82.1h0M554.3 144.4h0M610.9 50.4h0M598.8 138.1h0M600.2 135.1h0M562.5 88.7h0M600.7 107.1h0M598.9 159.6h0M605.7 51.7h0M606.0 137.8h0M567.2 117.2h0M569.0 135.2h0M606.6 96.8h0M607.4 39.4h0M564.5 138.3h0M603.2 87.0h0M563.8 128.9h0M605.4 140.9h0M610.2 146.9h0M574.8 132.6h0M595.0 157.5h0M601.5 130.2h0M559.4 102.8h0M546.2 17.2h0M569.5 125.7h0M599.8 132.4h0M575.7 138.7h0M573.9 151.0h0M560.6 141.4h0M568.2 119.9h0M609.2 80.9h0M603.9 136.1h0M601.2 147.4h0M565.1 121.2h0M566.5 108.0h0M569.5 122.8h0M600.8 109.5h0M610.0 49.1h0M567.6 153.1h0M602.1 160.9h0M603.8 100.1h0M608.0 86.2h0M556.0 138.1h0M610.3 138.2h0M573.5 129.6h0M560.5 149.7h0M571.3 113.1h0M562.7 105.4h0M613.5 145.0h0M600.7 97.3h0M559.7 45.8h0M598.3 154.9h0M568.5 118.7h0M603.7 101.7h0M602.2 158.0h0M602.9 142.4h0M566.1 87.1h0M601.0 146.4h0M561.9 137.0h0M590.6 163.0h0M600.0 159.6h0M567.2 149.3h0M575.0 135.6h0M606.6 50.4h0M568.6 156.4h0M567.8 104.0h0M600.4 150.5h0M574.8 147.5h0M563.3 81.3h0M605.5 73.8h0M534.0 89.7h0M610.7 120.0h0M606.0 130.7h0M608.7 128.7h0M610.7 67.8h0M568.5 154.8h0M607.0 61.5h0M607.1 112.5h0M568.3 121.8h0M619.5 149.0h0M553.8 132.6h0M570.0 159.8h0M607.1 143.3h0M554.5 59.7h0M547.1 145.3h0M617.7 113.3h0M565.2 108.6h0M573.5 148.9h0M611.9 83.2h0M606.8 77.1h0M605.5 141.9h0M556.8 139.9h0M547.7 17.3h0M603.8 72.8h0M610.8 132.5h0M574.6 146.7h0M603.3 137.0h0M614.9 128.8h0M559.8 134.3h0M606.7 154.7h0M619.0 51.6h0M564.7 76.4h0M565.1 106.2h0M567.9 156.8h0M607.8 146.5h0M614.5 145.4h0M599.6 136.5h0M567.0 107.5h0M565.5 129.5h0M543.9 62.1h0M564.7 83.5h0M607.9 61.1h0M552.7 99.4h0M565.0 152.3h0M563.6 155.8h0M564.5 142.2h0M601.3 152.0h0M569.2 139.4h0M558.5 121.2h0M565.4 112.6h0M554.2 135.2h0M602.3 135.9h0M569.8 163.4h0M551.8 38.3h0M605.6 120.7h0M556.0 127.1h0M567.7 150.0h0M568.3 94.7h0M561.2 114.9h0M567.8 112.5h0M618.7 148.4h0M553.1 131.1h0M568.6 162.0h0M594.3 149.4h0M594.5 144.6h0M610.3 38.4h0M571.7 127.1h0M602.7 137.6h0M565.2 112.0h0M600.3 96.3h0M565.5 94.5h0M565.9 107.6h0M595.9 159.1h0M554.6 148.6h0M608.3 147.1h0M566.3 138.2h0M606.2 52.9h0M602.8 76.8h0M564.1 144.8h0M566.2 93.9h0M615.0 133.8h0M620.8 152.5h0M612.4 155.4h0M602.8 140.4h0M605.4 103.2h0M568.1 125.1h0M555.2 149.5h0M603.2 150.1h0M574.6 152.4h0M548.1 134.8h0M565.0 67.4h0M605.4 134.0h0M606.3 63.1h0M597.8 161.8h0M596.3 161.1h0M568.4 163.3h0M552.8 139.9h0M619.1 136.1h0M611.8 156.7h0M567.7 88.6h0M565.9 157.4h0M597.7 154.5h0M558.4 152.8h0M556.6 127.3h0M546.8 77.8h0M568.0 132.5h0M560.1 90.1h0M562.4 109.5h0M599.0 120.7h0M603.0 157.4h0M606.5 118.0h0M560.6 140.8h0M598.2 162.1h0M596.6 140.2h0M563.4 131.4h0M549.4 149.7h0M603.9 71.3h0M604.2 95.7h0M607.3 88.4h0M609.3 136.6h0M612.2 17.2h0M606.0 50.0h0M556.2 150.1h0M557.1 143.3h0M599.8 160.9h0M601.4 89.3h0M617.3 140.7h0M603.3 110.2h0M604.8 141.4h0M609.1 38.1h0M601.1 126.3h0M566.8 141.3h0M604.5 74.7h0M607.5 160.3h0M600.8 140.1h0M570.8 136.9h0M614.6 67.3h0M558.0 68.9h0M595.3 139.4h0M597.9 110.2h0M598.7 132.6h0M610.2 78.8h0M561.3 74.8h0M603.2 94.2h0M551.4 17.5h0M601.3 92.4h0M554.9 16.9h0M604.3 146.9h0M560.8 153.6h0M604.7 71.7h0M563.5 153.8h0M610.2 96.2h0M565.0 131.5h0M565.7 80.0h0M567.5 93.7h0M562.4 97.2h0M598.7 157.1h0M566.4 123.2h0M606.1 98.0h0M610.9 37.5h0M561.6 109.7h0M597.6 122.7h0M605.3 145.7h0M576.3 156.5h0M618.5 159.1h0M611.5 135.8h0M598.1 148.2h0M568.0 95.8h0M565.9 98.8h0M601.9 104.4h0M596.5 138.4h0M568.3 117.8h0M564.0 92.4h0M604.6 107.7h0M555.2 89.6h0M566.6 110.0h0M549.5 17.7h0M573.8 155.3h0M597.1 143.2h0M561.5 42.0h0M613.9 137.1h0M592.8 160.0h0M566.6 148.7h0M597.3 146.6h0M565.6 141.6h0M601.7 97.0h0M560.9 133.0h0M604.7 79.2h0M560.0 149.3h0M564.8 97.6h0M604.5 158.5h0M552.7 108.4h0M570.2 146.9h0M569.3 146.7h0M557.1 124.6h0M569.1 151.4h0M565.3 146.0h0M568.9 133.9h0M610.6 32.6h0M618.2 115.3h0M614.7 130.9h0M566.4 137.6h0M561.9 69.8h0M569.0 107.0h0M555.6 65.7h0M561.1 113.5h0M567.5 120.4h0M607.5 58.6h0M610.2 158.6h0M553.3 149.3h0M561.2 65.5h0M557.1 76.1h0M599.6 135.9h0M602.6 160.1h0M564.4 89.5h0M601.7 137.4h0M568.1 125.5h0M601.8 111.2h0M565.1 69.5h0M610.5 130.9h0M599.0 113.8h0M600.2 140.0h0M607.2 107.4h0M618.0 153.9h0M572.8 156.2h0M566.7 139.4h0M562.9 103.1h0M568.5 137.0h0M550.8 29.5h0M598.5 148.8h0M564.9 139.8h0M561.4 105.6h0M548.8 152.1h0M574.4 154.4h0M613.2 129.6h0M551.2 64.9h0M562.0 53.5h0M594.0 147.3h0M568.4 116.8h0M571.9 144.8h0M558.6 39.9h0M602.9 137.5h0M619.3 142.8h0M569.0 101.7h0M611.8 111.8h0M606.9 155.9h0M568.7 140.3h0M600.7 123.3h0M613.2 37.6h0M560.0 141.1h0M568.4 141.3h0M608.5 115.7h0M608.3 121.6h0M554.7 51.7h0M575.4 156.5h0M604.0 149.4h0M618.0 17.5h0M607.3 55.5h0M561.2 131.7h0M596.1 151.9h0M602.1 96.5h0M566.6 119.8h0M597.7 123.1h0M601.0 127.1h0M564.7 148.9h0M560.6 40.1h0M565.0 161.0h0M616.3 141.9h0M560.4 143.6h0M600.2 155.6h0M568.5 153.0h0M574.8 161.9h0M559.9 96.2h0M570.7 134.6h0M567.2 145.8h0M571.1 158.0h0M603.4 84.4h0M605.7 130.3h0M565.1 80.7h0M610.3 115.6h0M544.3 17.0h0M618.0 135.6h0M615.6 154.6h0M560.5 126.1h0M600.5 156.3h0M598.8 149.4h0M545.9 117.8h0M599.2 155.2h0M574.4 156.7h0M608.2 122.6h0M566.6 153.9h0M601.1 135.5h0M563.6 127.3h0M570.4 115.0h0M564.2 109.9h0M608.8 64.6h0M598.2 126.3h0M560.0 37.3h0M616.4 147.1h0M567.8 114.7h0M598.8 106.3h0M562.3 88.2h0M602.1 126.8h0M608.1 134.9h0M616.1 122.5h0M604.7 92.2h0M560.0 143.4h0M554.8 45.8h0M602.9 103.8h0M570.9 145.6h0M559.6 136.9h0M552.3 56.7h0M569.3 122.9h0M561.5 116.7h0M609.2 100.1h0M565.6 88.9h0M603.8 123.6h0M559.7 143.9h0M566.2 134.3h0M562.1 135.5h0M565.1 78.5h0M563.5 139.0h0M573.8 158.2h0M608.8 36.8h0M558.5 63.0h0M616.0 75.2h0M600.5 97.1h0M568.0 97.1h0M605.7 148.9h0M604.4 158.3h0M564.9 88.7h0M596.8 161.0h0M606.1 144.3h0M610.1 102.3h0M565.7 129.2h0M601.1 153.3h0M555.7 115.2h0M607.8 64.4h0M595.3 145.5h0M559.8 102.7h0M561.9 89.9h0M598.9 130.8h0M563.6 70.4h0M601.4 135.7h0M593.8 133.5h0M566.0 122.6h0M561.6 98.7h0M552.5 157.7h0M614.3 130.3h0M605.5 149.5h0M561.3 157.9h0M611.1 42.7h0M551.1 69.7h0M596.3 121.0h0M607.4 138.2h0M603.0 105.6h0M566.1 133.6h0M561.6 124.7h0M603.5 149.8h0M561.7 96.4h0M567.8 123.2h0M608.1 50.5h0M608.7 140.7h0M572.1 119.7h0M603.2 118.8h0M568.0 101.8h0M559.6 28.4h0M616.9 160.3h0M605.9 94.6h0M570.4 121.7h0M620.1 151.4h0M563.3 97.3h0M562.3 56.9h0M608.5 106.5h0M572.8 135.1h0M599.9 117.2h0M606.7 57.1h0M569.2 116.6h0M597.3 139.5h0M551.0 61.7h0M601.8 109.5h0M597.9 136.5h0M597.3 140.2h0M569.5 127.5h0M562.4 94.5h0M570.4 142.2h0M558.1 66.0h0M561.5 145.4h0M555.1 145.8h0M568.0 135.4h0M597.4 128.5h0M605.3 136.8h0M559.0 141.9h0M604.6 76.4h0M563.9 154.0h0M604.1 121.8h0M609.5 145.8h0M562.1 99.9h0M604.3 147.6h0M567.7 159.1h0M602.5 120.0h0M562.6 121.1h0M612.8 115.0h0M556.3 32.4h0M609.6 132.2h0M609.3 31.0h0M551.5 144.9h0M562.3 131.1h0M568.9 117.4h0M566.4 97.6h0M540.5 72.7h0M599.5 162.0h0M547.4 129.9h0M596.3 157.2h0M612.9 144.1h0M597.6 157.3h0M566.3 132.6h0M600.5 151.9h0M571.5 139.5h0M554.4 137.1h0M608.5 98.8h0M565.8 121.9h0M567.3 89.4h0M605.1 157.9h0M607.9 76.0h0M604.5 63.0h0M626.4 118.7h0M601.7 84.1h0M562.7 65.8h0M601.6 90.0h0M558.2 118.7h0M605.9 152.6h0M556.7 151.4h0M559.4 50.0h0M568.1 139.2h0M610.9 69.6h0M570.1 111.5h0M561.4 41.5h0M552.5 153.3h0M602.7 141.1h0M621.3 110.1h0M617.9 139.3h0M563.5 86.6h0M550.6 83.5h0M569.6 134.5h0M557.0 92.6h0M602.4 161.5h0M549.7 129.9h0M571.2 144.5h0M553.9 116.0h0M568.8 159.2h0M603.1 148.0h0M557.8 145.3h0M605.6 156.4h0M603.4 128.9h0M602.1 85.5h0M606.8 145.8h0M613.3 89.4h0M597.1 133.2h0M551.7 104.4h0M559.3 130.8h0M554.2 150.3h0M583.9 162.0h0M621.2 157.2h0M605.4 80.0h0M597.7 118.1h0M623.7 154.4h0M612.3 160.6h0M625.0 146.2h0M599.2 137.9h0M605.3 92.7h0M604.1 141.5h0M565.1 159.7h0M604.3 154.8h0M555.4 145.0h0M569.3 145.2h0M573.7 156.7h0M570.3 150.4h0M593.4 157.6h0M618.1 151.9h0M568.6 108.3h0M616.2 44.5h0M570.0 143.3h0M557.5 43.3h0M597.6 114.6h0M568.4 158.2h0M606.3 95.3h0M576.4 140.5h0M599.2 114.0h0M564.6 151.1h0M597.3 149.6h0M610.2 136.7h0M606.8 148.4h0M568.2 126.1h0M563.4 154.3h0M570.1 111.9h0M567.1 118.9h0M609.6 157.3h0M592.4 141.4h0M608.0 60.2h0M572.6 154.1h0M569.4 152.9h0M547.7 16.9h0M572.5 158.5h0M599.5 150.4h0M600.9 119.3h0M600.2 126.4h0M566.0 103.3h0M595.9 133.9h0M604.7 132.0h0M597.5 150.7h0M559.1 108.5h0M601.8 84.7h0M570.3 135.2h0M551.4 145.7h0M566.7 147.8h0M598.3 112.3h0M564.6 99.4h0M603.4 101.9h0M618.0 98.3h0M603.9 155.6h0M565.5 102.1h0M569.3 151.2h0M613.9 29.2h0M567.6 132.0h0M606.7 61.1h0M604.4 63.8h0M621.3 17.1h0M608.4 30.4h0M560.1 141.9h0M596.6 145.7h0M570.8 138.2h0M564.6 140.9h0M624.8 116.5h0M610.5 38.8h0M596.3 162.0h0M608.7 153.8h0M604.8 143.0h0M616.2 143.2h0M625.3 17.0h0M605.4 117.2h0M613.1 131.0h0M553.8 150.8h0M562.5 102.4h0M610.3 123.7h0M562.8 81.8h0M610.1 62.4h0M567.0 98.3h0M548.2 131.8h0M569.5 114.2h0M560.0 27.5h0M609.2 27.6h0M558.3 147.1h0M563.5 57.6h0M600.1 155.0h0M611.7 48.3h0M609.7 139.0h0M605.5 131.6h0M569.4 110.3h0M625.0 86.0h0M552.7 96.9h0M570.1 148.7h0M565.4 113.7h0M563.4 157.5h0M601.4 151.5h0M613.8 161.0h0M609.8 153.7h0M566.4 115.9h0M605.5 155.1h0M559.1 133.9h0M547.8 99.5h0M616.0 161.8h0M569.9 158.9h0M602.7 86.7h0M561.6 144.9h0M544.8 108.6h0M561.1 73.1h0M570.5 159.0h0M597.6 163.3h0M647.5 116.8h0M568.5 105.4h0M569.1 144.9h0M597.7 140.6h0M597.1 157.6h0M591.5 143.9h0M606.6 157.3h0M607.5 140.4h0M608.4 78.9h0M562.5 95.8h0M601.6 107.6h0M606.5 71.1h0M604.2 134.4h0M559.2 39.8h0M605.4 138.5h0M604.6 142.2h0M601.1 96.3h0M555.3 146.1h0M601.1 147.9h0M613.9 154.7h0M599.3 116.9h0M563.2 122.8h0M574.9 160.4h0M600.9 121.8h0M608.3 90.2h0M563.1 69.0h0M601.5 154.3h0M604.3 70.1h0M566.8 128.8h0M564.9 84.2h0M568.4 141.2h0M613.3 132.1h0M548.6 76.9h0M597.2 150.9h0M623.5 99.9h0M560.5 137.6h0M598.1 115.2h0M600.0 139.4h0M610.5 61.2h0M610.9 102.0h0M598.1 129.6h0M601.5 148.3h0M556.7 60.4h0M597.7 112.9h0M560.9 114.9h0M616.0 125.6h0M567.2 87.7h0M608.1 70.2h0M564.8 101.3h0M561.9 133.5h0M554.8 153.5h0M574.1 160.4h0M564.6 133.7h0M617.1 51.2h0M569.6 143.8h0M563.4 144.9h0M596.2 145.8h0M604.1 82.2h0M572.9 131.6h0M551.6 17.1h0M560.3 115.6h0M608.7 124.7h0M607.6 91.0h0M573.9 160.2h0M548.0 127.2h0M596.0 156.8h0M605.2 146.8h0M560.1 123.6h0M561.9 123.2h0M561.5 67.2h0M566.5 119.2h0M571.6 143.4h0M570.5 116.0h0M601.0 111.1h0M604.3 72.0h0M556.6 106.2h0M608.6 37.2h0M556.5 124.1h0M611.2 150.9h0M569.8 136.6h0M558.3 103.4h0M567.9 127.2h0M559.2 29.1h0M572.2 150.2h0M645.7 91.2h0M564.1 154.2h0M571.0 159.2h0M599.9 151.7h0M605.3 74.9h0M597.0 116.3h0M562.9 93.5h0M608.1 108.2h0M601.4 132.6h0M563.0 58.3h0M566.9 114.1h0M561.9 90.7h0M567.1 112.1h0M568.9 112.6h0M561.7 83.8h0M561.4 50.5h0M566.2 95.0h0M609.8 86.3h0M555.1 136.6h0M609.5 158.4h0M574.7 162.6h0M615.5 17.1h0M567.5 96.9h0M607.4 159.5h0M566.7 107.2h0M610.2 56.4h0M607.8 42.6h0M554.9 141.2h0M602.2 92.2h0M599.6 131.9h0M548.9 122.8h0M567.1 161.4h0M569.9 135.5h0M595.7 146.3h0M616.1 156.5h0M570.3 117.3h0M597.1 116.9h0M604.6 145.2h0M546.7 94.2h0M568.9 139.1h0M561.2 149.9h0M602.5 148.0h0M614.9 142.8h0M563.3 99.7h0M564.0 143.7h0M567.2 101.5h0M558.3 140.3h0M603.4 124.3h0M601.9 142.4h0M563.1 67.0h0M565.4 79.0h0M608.7 32.0h0M545.5 85.9h0M612.0 121.1h0M598.9 146.3h0M537.1 80.0h0M602.9 129.3h0M620.7 142.5h0M559.0 140.4h0M561.2 86.8h0M598.6 138.8h0M606.5 145.2h0M598.5 135.2h0M560.8 137.0h0M604.1 88.6h0M564.5 133.0h0M607.7 97.9h0M558.6 62.3h0M601.3 131.2h0M542.9 113.1h0M603.1 122.2h0M566.1 118.1h0M564.8 66.6h0M570.5 149.7h0M602.8 113.1h0M610.1 119.2h0M571.2 146.4h0M607.6 65.1h0M609.7 139.8h0M567.9 130.6h0M545.9 148.4h0M563.0 137.3h0M566.8 144.8h0M595.1 150.4h0M601.9 158.9h0M566.1 109.0h0M606.3 62.7h0M559.3 151.2h0M600.3 158.7h0M545.8 110.5h0M568.1 143.1h0M566.2 92.1h0M598.7 139.6h0M565.4 78.7h0M571.7 152.1h0M609.2 142.6h0M608.4 58.7h0M602.3 120.7h0M615.0 48.9h0M600.2 162.1h0M634.0 123.3h0M570.2 160.6h0M593.2 157.0h0M563.7 69.9h0M561.1 79.3h0M601.6 147.5h0M570.5 119.7h0M602.8 116.0h0M601.6 116.6h0M562.8 89.7h0M560.9 151.6h0M571.1 147.3h0M613.3 80.2h0M616.3 158.9h0M568.5 133.1h0M566.8 98.8h0M608.8 60.2h0M606.5 161.6h0M600.3 137.4h0M606.8 55.7h0M609.3 149.2h0M617.0 120.9h0M609.3 118.2h0M560.0 151.8h0M566.4 80.2h0M562.3 132.1h0M601.3 139.8h0M566.6 127.1h0M605.2 143.0h0M546.0 17.1h0M550.0 144.6h0M608.7 100.6h0M617.0 151.8h0M609.1 135.9h0M566.6 145.5h0M567.6 104.5h0M610.4 83.1h0M601.2 157.1h0M607.6 131.1h0M609.4 151.0h0M605.3 88.6h0M602.3 130.5h0M597.4 160.7h0M568.3 97.6h0M642.3 17.1h0M608.9 133.0h0M596.8 156.5h0M547.2 70.3h0M563.1 53.8h0M619.5 50.5h0M551.6 141.6h0M612.3 146.9h0M571.3 127.9h0M616.0 143.9h0M601.3 94.5h0M599.1 147.9h0M566.8 146.1h0M567.1 163.3h0M610.4 74.9h0M562.3 86.9h0M553.4 59.6h0M601.9 149.8h0M611.5 152.7h0M606.9 79.1h0M602.9 80.0h0M563.8 73.8h0M567.8 113.3h0M599.6 155.7h0M571.1 111.2h0M607.0 68.9h0M600.3 127.7h0M614.6 132.5h0M605.8 90.7h0M566.0 86.9h0M604.0 129.9h0M610.4 47.5h0M565.3 91.8h0M558.2 58.7h0M601.0 137.6h0M599.1 160.9h0M559.5 144.2h0M618.8 131.8h0M602.2 94.9h0M600.1 132.8h0M563.2 92.2h0M557.9 105.2h0M566.4 135.7h0M557.6 155.0h0M566.9 141.5h0M601.5 155.2h0M559.0 145.1h0M568.2 134.4h0M605.4 85.1h0M628.1 102.5h0M597.8 144.1h0M607.0 75.3h0M605.4 154.0h0M601.1 141.3h0M544.8 106.5h0M606.4 156.7h0M571.4 162.4h0M598.8 136.9h0M541.6 39.6h0M607.1 90.5h0M567.3 123.3h0M562.1 82.0h0M614.7 154.5h0M604.3 140.4h0M601.0 142.9h0M549.9 103.0h0M560.8 146.5h0M559.9 114.4h0M556.7 65.0h0M598.6 107.3h0M558.4 61.9h0M604.2 85.9h0M607.7 104.9h0M606.0 93.5h0M568.5 118.9h0M602.7 78.0h0M609.1 83.9h0M606.4 146.3h0M560.9 82.1h0M605.8 81.8h0M565.7 87.7h0M555.8 156.4h0M548.6 17.0h0M610.5 17.1h0M563.7 132.8h0M559.7 84.2h0M568.3 112.3h0M602.7 88.0h0M559.5 111.8h0M601.1 101.1h0M604.9 67.2h0M613.7 108.4h0M566.9 148.1h0M561.5 140.3h0M565.7 150.5h0M562.0 135.4h0M560.9 69.8h0M561.6 137.4h0M601.9 113.0h0M557.2 128.2h0M556.3 137.4h0M599.6 144.3h0M608.8 129.7h0M613.2 75.3h0M595.8 144.8h0M609.0 71.1h0M566.5 113.0h0M606.4 135.6h0M568.5 96.8h0M569.0 119.9h0M602.4 81.2h0M609.9 120.7h0M561.0 85.3h0M565.4 105.0h0M562.5 148.9h0M558.1 113.4h0M563.7 57.0h0M607.2 62.7h0M606.8 73.9h0M551.8 45.9h0M557.6 152.2h0M563.4 61.5h0M562.1 140.2h0M547.0 104.2h0M608.0 55.0h0M569.5 130.8h0M558.0 119.4h0M558.1 76.9h0M601.7 115.8h0M609.8 30.2h0M557.4 117.8h0M609.2 77.9h0M616.7 108.4h0M560.0 142.5h0M596.6 161.4h0M611.4 35.8h0M565.2 119.8h0M568.4 160.3h0M615.5 121.1h0M601.7 120.5h0M601.7 99.1h0M563.2 131.7h0M606.4 133.9h0M607.7 40.0h0M603.0 82.7h0M610.2 92.5h0M607.7 152.5h0M568.1 105.1h0M565.4 130.0h0M596.7 146.2h0M565.4 104.1h0M608.0 43.9h0M604.4 90.1h0M569.4 138.5h0M611.2 123.0h0M569.5 161.0h0M558.6 141.0h0M563.8 160.1h0M598.4 119.5h0M566.6 86.6h0M580.4 155.5h0M605.4 121.4h0M568.6 161.8h0M559.7 48.5h0M611.7 153.5h0M539.5 118.2h0M557.7 66.3h0M561.8 100.2h0M614.8 139.3h0M603.5 146.0h0M564.2 115.6h0M567.8 89.9h0M607.3 84.5h0M617.4 114.7h0M552.7 17.1h0M602.1 150.2h0M556.1 109.0h0M613.3 126.4h0M612.9 121.6h0M620.8 134.7h0M557.1 141.6h0M599.2 159.6h0M569.8 132.6h0M572.0 154.8h0M564.3 99.9h0M620.8 84.1h0M562.4 111.1h0M569.1 142.0h0M605.5 114.4h0M609.0 82.9h0M565.7 75.8h0M604.1 144.3h0M556.0 142.5h0M560.8 66.2h0M605.8 52.5h0M605.0 162.5h0M602.0 158.7h0M603.3 113.5h0M573.4 146.2h0M604.6 110.5h0M604.9 143.8h0M559.4 81.1h0M557.2 27.9h0M611.8 144.9h0M600.2 161.2h0M501.4 117.3h0M620.7 135.9h0M555.4 102.0h0M606.8 80.8h0M557.8 31.4h0M562.3 107.2h0M619.2 129.3h0M573.4 155.9h0M565.8 128.1h0M554.2 145.8h0M601.3 123.8h0M558.3 85.8h0M568.9 160.5h0M556.4 17.0h0M562.3 130.3h0M568.7 97.8h0M611.6 133.7h0M549.0 114.0h0M559.8 80.5h0M562.4 129.1h0M558.9 154.2h0M617.2 30.5h0M562.4 143.8h0M596.8 151.7h0M608.2 127.7h0M608.3 87.2h0M556.5 140.6h0M523.1 141.9h0M612.8 156.1h0M610.5 140.8h0M567.1 128.8h0M599.0 145.1h0M565.6 156.1h0M600.7 125.9h0M613.4 55.4h0M598.9 136.7h0M561.9 143.8h0M571.0 111.6h0M604.0 67.0h0M614.3 109.9h0M552.7 48.1h0M556.0 149.6h0M563.0 73.8h0M609.9 118.9h0M567.3 134.5h0M617.2 101.7h0M601.4 105.4h0M567.0 146.7h0M604.8 150.3h0M601.4 143.6h0M554.6 149.4h0M570.4 161.8h0M617.2 114.3h0M604.4 159.5h0M556.6 117.7h0M561.1 155.4h0M606.3 79.7h0M550.2 120.9h0M566.8 156.5h0M568.2 99.1h0M609.6 135.4h0M601.8 135.0h0M560.0 71.6h0M557.2 81.6h0M605.1 124.6h0M612.7 88.0h0M559.6 152.9h0M624.7 17.3h0M633.4 28.2h0M607.3 51.2h0M563.4 134.7h0M553.1 133.8h0M550.0 17.0h0M560.2 57.4h0M609.6 40.7h0M557.4 106.2h0M603.6 127.6h0M609.3 154.6h0M602.4 93.9h0M599.9 113.5h0M570.6 158.4h0M572.8 145.0h0M599.3 163.4h0M631.2 117.9h0M559.2 35.5h0M564.0 133.9h0M599.3 135.7h0M607.5 103.6h0M617.7 157.6h0M564.7 147.9h0M565.6 116.6h0M598.7 162.8h0M566.2 105.9h0M605.4 159.0h0M557.5 43.7h0M558.8 86.4h0M603.8 77.1h0M611.2 154.5h0M571.5 135.6h0M610.4 115.1h0M548.3 122.4h0M611.7 157.8h0M566.7 154.1h0M623.4 147.5h0M605.3 96.9h0M566.1 77.0h0M599.7 126.9h0M603.7 98.5h0M606.5 134.7h0M564.2 87.3h0M602.2 80.4h0M565.5 119.1h0M560.7 81.5h0M607.2 96.2h0M562.8 80.2h0M603.6 79.3h0M564.2 99.4h0M599.4 100.7h0M612.0 148.9h0M601.8 157.5h0M605.7 64.3h0M588.4 154.8h0M607.9 120.4h0M553.2 118.8h0M568.8 143.7h0M556.4 54.7h0M602.2 115.7h0M602.0 144.0h0M563.3 135.3h0M559.6 123.2h0M560.1 94.1h0M562.4 76.2h0M606.2 73.5h0M558.9 155.0h0M606.5 128.8h0M610.0 144.1h0M600.2 112.9h0M604.8 90.7h0M546.4 98.5h0M558.8 43.7h0M605.4 72.4h0M574.5 160.6h0M606.4 162.9h0M566.7 137.1h0M563.2 59.5h0M559.5 60.7h0M558.6 75.7h0M561.5 64.7h0M562.2 141.3h0M603.7 69.7h0M561.6 62.0h0M569.1 108.5h0M610.5 107.9h0M555.6 126.8h0M606.5 58.0h0M614.7 118.1h0M561.8 130.8h0M598.6 122.2h0M613.6 47.5h0M560.8 58.9h0M595.1 146.4h0M601.0 105.0h0M564.6 96.4h0M605.5 95.5h0M598.9 128.6h0M559.1 151.6h0M567.5 95.9h0M597.4 157.2h0M607.7 96.7h0M565.6 117.8h0M558.6 30.7h0M600.2 97.4h0M556.1 109.6h0M510.3 117.2h0M529.0 17.0h0M620.6 17.1h0M601.5 101.3h0M551.4 65.5h0M567.7 139.8h0M619.6 94.3h0M608.3 51.7h0M596.5 140.8h0M554.1 147.1h0M608.2 123.8h0M567.5 142.9h0M607.3 152.4h0M607.8 43.2h0M607.4 48.2h0M617.2 158.2h0M617.5 17.2h0M613.2 139.2h0M560.9 139.7h0M611.2 138.1h0M559.1 143.0h0M554.9 147.5h0M615.7 86.9h0M544.2 115.6h0M621.6 108.6h0M566.5 142.9h0M602.2 133.1h0M556.4 84.3h0M606.2 79.0h0M565.5 131.3h0M542.4 113.7h0M564.3 71.9h0M561.2 39.5h0M562.1 42.6h0M562.9 55.4h0M609.0 52.8h0M567.6 161.4h0M601.4 88.0h0M556.8 152.3h0M565.4 85.4h0M561.5 154.7h0M610.2 143.1h0M562.3 50.8h0M568.6 126.7h0M561.6 111.5h0M605.6 125.1h0M611.3 35.1h0M615.1 64.6h0M601.1 106.0h0M603.0 95.6h0M558.9 35.8h0M608.0 80.2h0M570.6 152.8h0M565.4 103.2h0M610.0 153.1h0M606.8 103.4h0M553.7 66.2h0M570.8 133.5h0M599.3 110.7h0M605.5 122.6h0M569.4 105.7h0M602.3 137.2h0M616.3 127.3h0M558.8 141.9h0M612.6 145.6h0M620.2 141.2h0M622.3 17.1h0M561.0 93.4h0M564.1 68.7h0M561.5 94.7h0M557.0 115.8h0M599.8 143.6h0M568.1 94.9h0M599.7 141.9h0M567.2 132.8h0M544.3 102.7h0M613.8 71.3h0M615.6 135.6h0M563.6 146.5h0M611.4 151.8h0M610.6 32.3h0M553.2 42.4h0M563.3 129.7h0M606.9 80.3h0M607.8 151.5h0M561.2 70.9h0M606.5 151.3h0M565.1 111.5h0M613.0 52.0h0M602.4 108.2h0M552.6 150.3h0M614.7 135.4h0M567.1 119.7h0M606.6 87.3h0M550.0 144.3h0M603.1 134.1h0M565.2 70.4h0M607.6 69.2h0M607.6 102.3h0M609.6 65.2h0M560.0 138.7h0M560.6 97.6h0M618.3 88.1h0M611.7 91.6h0M561.4 59.2h0M563.1 121.5h0M619.5 118.8h0M563.4 66.4h0M564.4 113.5h0M609.1 144.6h0M570.8 136.1h0M564.1 111.6h0M557.6 123.3h0M569.0 150.8h0M607.8 72.5h0M564.2 113.3h0M554.7 134.0h0M612.8 153.3h0M615.5 131.6h0M613.6 156.7h0M615.2 45.3h0M612.8 112.4h0M606.1 144.4h0M566.3 115.0h0M601.5 160.6h0M568.3 155.4h0M606.5 70.6h0M606.8 145.0h0M606.0 72.1h0M567.8 136.6h0M548.8 154.5h0M563.3 117.0h0M620.4 17.5h0M567.6 99.8h0M604.7 148.5h0M613.4 130.5h0M602.4 149.7h0M605.4 70.5h0M634.9 37.4h0M561.5 77.6h0M555.2 91.8h0M574.8 133.4h0M571.7 135.5h0M560.8 61.8h0M564.8 129.0h0M605.9 158.8h0M559.7 42.3h0M567.2 112.9h0M560.3 55.9h0M603.5 102.0h0M606.5 103.9h0M551.3 125.4h0M559.6 58.3h0M561.2 71.7h0M562.3 45.0h0M571.0 156.5h0M568.4 121.7h0M558.1 58.9h0M557.9 138.1h0M605.8 111.2h0M561.6 127.7h0M602.9 107.2h0M560.1 145.5h0M566.9 125.7h0M610.5 42.0h0M549.3 16.9h0M564.7 92.0h0M566.2 88.7h0M611.6 135.6h0M558.7 149.3h0M605.7 60.7h0M615.3 155.5h0M547.6 148.6h0M561.1 132.1h0M567.7 148.1h0M564.0 97.1h0M601.3 107.2h0M563.1 151.1h0M559.0 32.2h0M608.4 83.7h0M542.7 142.6h0M612.0 139.4h0M565.7 127.4h0M569.5 127.9h0M560.3 153.6h0M612.1 130.1h0M549.2 136.9h0M558.7 134.9h0M600.9 94.1h0M556.5 104.5h0M562.7 73.8h0M564.4 114.4h0M570.0 137.8h0M564.0 129.5h0M554.2 121.8h0M614.9 154.0h0M599.4 127.5h0M597.0 119.4h0M600.3 122.6h0M559.2 148.3h0M570.0 106.3h0M565.9 84.1h0M603.9 75.5h0M548.5 140.6h0M606.5 132.3h0M599.7 134.1h0M564.7 127.6h0M555.2 126.0h0M606.6 68.0h0M567.7 141.4h0M560.9 80.5h0M614.6 17.7h0M598.3 131.1h0M604.3 117.3h0M606.6 46.7h0M610.7 148.9h0M643.5 16.9h0M563.0 110.0h0M554.2 115.3h0M601.4 121.5h0M605.9 135.7h0M571.0 141.6h0M598.9 146.9h0M563.1 141.6h0M571.4 140.1h0M566.5 128.3h0M567.5 140.7h0M606.1 117.5h0M556.1 82.4h0M562.6 116.3h0M609.7 126.9h0M601.9 152.6h0M567.1 151.5h0M609.1 113.4h0M563.2 103.6h0M621.1 138.1h0M565.4 133.7h0M598.6 144.4h0M604.3 84.9h0M605.4 151.4h0M554.7 56.0h0M564.4 105.2h0M609.7 155.9h0M563.3 140.6h0M614.0 138.2h0M602.8 84.3h0M603.7 157.1h0M548.2 136.9h0M552.9 106.0h0M604.4 153.0h0M561.3 57.7h0M604.4 133.5h0M565.2 74.0h0M567.9 138.7h0M602.2 127.7h0M614.0 125.2h0M605.3 68.8h0M558.9 156.6h0M609.2 104.0h0M606.4 125.7h0M549.6 91.0h0M564.8 79.3h0M601.5 103.8h0M607.1 154.0h0M607.6 80.6h0M572.1 145.6h0M610.4 118.6h0M553.4 155.3h0M568.4 152.2h0M599.2 103.9h0M564.1 101.3h0M568.8 137.6h0M617.9 146.2h0M616.4 151.5h0M565.1 110.6h0M602.8 118.2h0M550.6 148.1h0M553.6 139.5h0M560.6 64.5h0M607.3 74.2h0M607.4 75.8h0M564.8 92.7h0M550.2 59.1h0M603.4 138.5h0M623.8 17.4h0M614.9 146.9h0M606.8 134.7h0M572.0 158.2h0M544.1 26.6h0M608.5 34.0h0M609.2 126.0h0M607.1 107.7h0M552.1 126.7h0M564.1 126.6h0M569.2 129.6h0M610.0 117.8h0M616.2 141.1h0M609.0 149.5h0M604.7 80.4h0M563.7 102.4h0M549.8 118.9h0M567.4 130.3h0M606.3 114.0h0M608.8 33.2h0M560.9 138.2h0M548.6 17.5h0M605.1 138.2h0M555.9 153.4h0M602.3 142.8h0M602.6 142.7h0M559.5 108.2h0M559.0 43.1h0M619.8 149.6h0M612.6 148.8h0M602.0 162.1h0M621.4 154.9h0M604.3 63.6h0M567.2 97.7h0M616.9 17.2h0M562.2 105.1h0M607.6 41.5h0M599.4 100.4h0M558.2 139.6h0M569.9 154.3h0M612.5 82.8h0M610.7 55.1h0M616.3 65.4h0M623.1 17.6h0M554.5 91.0h0M609.7 135.7h0M560.2 124.6h0M598.0 136.1h0M544.1 138.1h0M606.6 80.7h0M561.2 110.7h0M557.8 29.6h0M606.1 141.5h0M554.4 155.7h0M548.6 136.5h0M604.6 153.7h0M566.4 156.1h0M609.3 75.3h0M604.2 139.8h0M614.2 133.6h0M552.8 128.7h0M570.0 138.9h0M598.3 142.7h0M617.2 16.9h0M599.5 126.6h0M563.0 94.4h0M597.4 130.1h0M600.5 101.5h0M563.9 135.1h0M563.3 150.7h0M569.8 149.3h0M606.2 83.9h0M609.1 93.6h0M566.7 123.8h0M618.5 85.7h0M568.0 128.5h0M610.2 161.5h0M551.6 84.7h0M546.4 67.8h0M610.1 135.2h0M559.0 131.2h0M613.6 61.1h0M607.9 141.7h0M606.9 139.3h0M597.6 130.9h0M607.4 60.8h0M608.2 87.9h0M605.7 82.5h0M562.4 156.9h0M610.8 139.7h0M606.3 121.9h0M604.3 157.2h0M613.0 45.0h0M569.6 129.3h0M538.7 135.4h0M602.1 89.7h0M618.7 130.2h0M559.7 64.4h0M560.4 110.6h0M562.4 149.7h0M560.6 133.4h0M620.5 156.3h0M566.0 125.6h0M560.7 117.8h0M607.3 95.1h0M616.4 139.4h0M601.1 136.5h0M562.3 113.6h0M565.7 74.7h0M560.8 107.5h0M615.5 158.1h0M606.8 137.8h0M572.6 141.7h0M557.4 109.9h0M600.4 131.4h0M567.4 103.4h0M614.6 146.8h0M564.1 66.5h0M595.6 163.2h0M562.2 68.6h0M561.5 129.5h0M562.5 95.2h0M624.0 16.9h0M561.4 148.8h0M548.6 118.9h0M561.7 85.2h0M616.7 117.4h0M603.1 145.1h0M546.8 31.6h0M622.0 117.6h0M557.8 62.2h0M606.9 152.8h0M601.5 144.9h0M569.1 99.5h0M621.0 151.4h0M602.9 159.2h0M574.7 163.1h0M603.3 147.5h0M560.5 43.5h0M596.5 149.7h0M562.6 123.5h0M602.0 101.9h0M612.3 121.8h0M562.2 62.2h0M601.4 150.0h0M555.2 115.2h0M565.5 149.5h0M605.2 101.9h0M565.5 137.2h0M615.0 160.9h0M539.3 16.9h0M559.1 148.5h0M608.3 157.0h0M560.5 139.2h0M556.5 135.0h0M609.5 107.4h0M566.0 94.4h0M566.4 121.2h0M604.2 138.0h0M609.5 77.5h0M562.8 101.4h0M603.6 70.7h0M609.0 139.6h0M567.8 101.2h0M556.2 37.5h0M556.0 17.5h0M561.5 80.0h0M612.8 130.1h0M566.4 90.2h0M605.5 104.4h0M555.7 136.9h0M606.7 101.4h0M609.1 142.2h0M560.3 53.2h0M562.8 65.6h0M553.2 35.0h0M614.6 64.8h0M604.9 100.7h0M610.7 64.7h0M616.8 125.4h0M558.2 111.3h0M575.7 136.7h0M564.6 72.3h0M604.6 119.6h0M603.5 100.1h0M603.5 83.6h0M604.8 161.7h0M610.4 29.1h0M543.6 138.4h0M602.2 103.7h0M562.7 60.2h0M565.5 102.0h0M554.5 47.5h0M614.1 141.2h0M603.4 156.0h0M605.9 128.4h0M598.0 124.5h0M609.8 80.7h0M554.8 113.3h0M605.6 115.5h0M566.7 160.0h0M553.6 119.3h0M565.5 111.5h0M563.5 115.1h0M554.3 119.5h0M601.0 128.6h0M563.6 89.4h0M565.0 156.3h0M558.5 17.0h0M565.0 135.8h0M559.9 150.0h0M600.4 124.4h0M613.9 77.7h0M619.6 154.8h0M603.4 126.5h0M616.5 124.8h0M600.6 92.0h0M608.4 37.2h0M609.0 111.7h0M568.8 104.3h0M562.4 132.7h0M610.1 150.8h0M607.3 71.6h0M568.0 131.5h0M562.4 69.5h0M613.1 106.9h0M609.2 71.2h0M619.9 115.1h0M602.1 119.1h0M616.2 131.9h0M614.1 162.2h0M573.2 124.6h0M565.3 118.1h0M550.6 35.0h0M560.4 90.6h0M605.8 99.4h0M596.2 161.9h0M612.6 132.4h0M602.9 104.9h0M561.6 101.9h0M561.4 142.1h0M615.4 142.0h0M543.6 17.2h0M607.8 145.1h0M607.6 143.5h0M604.8 154.0h0M613.7 128.3h0M608.9 29.5h0M558.9 113.5h0M559.5 74.9h0M605.8 98.0h0M556.9 122.0h0M608.5 133.3h0M564.8 94.8h0M558.3 128.2h0M602.5 128.4h0M566.7 124.9h0M604.4 105.9h0M565.8 123.6h0M524.7 57.5h0M613.6 122.3h0M570.8 143.9h0M555.9 121.6h0M559.4 119.6h0M601.9 129.2h0M602.3 123.1h0M605.0 101.6h0M577.2 143.5h0M600.5 138.4h0M607.1 43.3h0M607.2 93.8h0M598.9 143.2h0M609.9 115.3h0M612.7 117.4h0M604.1 125.8h0M564.3 107.2h0M552.1 134.6h0M566.0 111.5h0M607.7 132.6h0M602.6 88.7h0M606.0 66.8h0M616.0 77.8h0M554.3 141.7h0M561.3 140.4h0M565.9 75.2h0M602.0 121.9h0M551.5 155.6h0M608.7 91.5h0M612.3 140.2h0M619.5 17.2h0M570.1 145.1h0M607.5 117.3h0M619.6 108.6h0M607.3 89.9h0M601.4 100.6h0M607.9 77.4h0M604.1 107.7h0M564.2 74.8h0M563.9 119.4h0M561.9 126.8h0M561.5 66.8h0M553.3 153.0h0M562.7 154.0h0M569.0 115.6h0M604.8 136.6h0M599.6 162.1h0M548.2 108.5h0M615.6 130.7h0M651.1 17.2h0M570.1 128.2h0M606.5 74.2h0M607.4 57.2h0M555.2 39.0h0M618.2 135.6h0M613.5 155.7h0M607.0 150.4h0M551.4 136.0h0M604.8 82.6h0M611.6 124.9h0M604.2 65.9h0M620.1 129.5h0M563.4 153.1h0M568.1 147.2h0M563.0 119.6h0M610.6 59.4h0M561.4 82.6h0M562.6 153.1h0M565.7 93.4h0M618.6 72.9h0M615.4 150.3h0M617.2 127.1h0M553.2 127.0h0M555.3 127.4h0M602.3 99.3h0M612.7 91.3h0M558.1 154.7h0M607.1 66.0h0M552.5 156.8h0M562.7 51.9h0M563.7 122.2h0M618.1 100.4h0M554.5 123.7h0M609.2 100.7h0M624.4 153.6h0M614.4 70.8h0M569.6 155.5h0M599.6 129.5h0M560.4 154.9h0M565.0 99.8h0M558.2 65.1h0M613.6 66.6h0M559.3 27.2h0M563.7 82.2h0M599.1 122.4h0M549.5 154.3h0M614.0 149.5h0M613.6 135.8h0M564.5 84.8h0M633.5 55.4h0M615.3 137.5h0M609.3 124.5h0M604.9 109.8h0M600.5 139.4h0M560.4 156.6h0M605.6 103.7h0M564.4 104.1h0M605.0 58.8h0M553.6 134.6h0M568.0 155.6h0M610.3 149.8h0M604.4 106.5h0M605.0 135.3h0M567.5 92.5h0M609.6 130.3h0M604.3 153.8h0M560.1 131.0h0M560.5 94.8h0M626.9 17.1h0M612.7 145.0h0M601.8 124.6h0M617.6 88.0h0M604.4 66.7h0M564.6 107.4h0M610.4 150.2h0M556.2 140.6h0M551.3 143.0h0M590.8 146.6h0M553.4 136.2h0M559.0 134.5h0M550.7 107.3h0M605.7 89.9h0M563.7 159.3h0M560.6 148.3h0M556.7 137.5h0M631.7 84.6h0M615.8 47.7h0M632.5 121.4h0M603.0 113.2h0M621.5 27.6h0M616.6 88.2h0M613.3 100.1h0M612.7 67.8h0M624.4 69.7h0M626.0 72.7h0M612.5 28.7h0M615.4 101.9h0M623.3 70.7h0M618.1 48.4h0M612.0 66.9h0M604.4 82.9h0M616.7 37.4h0M616.9 40.3h0M633.6 50.1h0M612.1 54.3h0M611.8 109.3h0M611.7 120.0h0M620.7 48.5h0M627.0 118.5h0M613.7 68.3h0M608.7 56.3h0M605.0 104.9h0M612.5 108.3h0M627.7 97.9h0M611.6 92.9h0M628.0 61.9h0M615.8 103.5h0M611.8 78.9h0M633.0 41.4h0M614.4 60.1h0M629.2 122.9h0M623.6 94.7h0M622.4 98.9h0M618.6 74.2h0M612.3 41.9h0M617.5 97.9h0M618.4 53.5h0M615.4 72.6h0M606.8 83.4h0M624.9 125.7h0M613.0 77.3h0M610.4 118.0h0M618.3 52.7h0M628.5 113.5h0M623.4 48.0h0M633.2 78.3h0M629.3 55.2h0M615.2 27.7h0M614.6 66.6h0M630.1 77.7h0M629.8 68.9h0M615.7 65.7h0M621.8 47.9h0M615.6 125.8h0M627.7 29.1h0M615.6 74.1h0M616.3 44.8h0M627.2 69.7h0M610.3 117.5h0M627.6 109.7h0M632.1 60.1h0M620.0 50.5h0M613.0 84.5h0M619.9 115.7h0M630.3 73.8h0M610.9 30.3h0M630.1 36.0h0M607.6 113.8h0M609.6 98.5h0M621.3 119.7h0M610.6 54.1h0M626.9 43.0h0M615.6 113.9h0M632.5 105.3h0M605.8 96.6h0M630.6 59.4h0M610.6 77.8h0M608.9 98.6h0M610.9 58.4h0M611.5 71.4h0M628.1 124.2h0M604.7 89.0h0M616.5 99.0h0M616.2 45.5h0M617.1 82.7h0M609.7 77.1h0M605.2 86.0h0M610.0 106.0h0M603.0 91.7h0M613.3 94.7h0M605.1 87.2h0M610.4 49.8h0M612.5 41.0h0M615.1 34.1h0M620.3 35.6h0M612.9 99.8h0M618.0 101.1h0M619.9 67.0h0M632.7 100.6h0M609.9 29.6h0M615.0 83.9h0M621.4 36.0h0M604.9 116.7h0M613.4 102.7h0M606.5 92.4h0M613.6 35.8h0M607.8 109.1h0M631.3 93.5h0M619.5 34.5h0M626.3 42.6h0M633.0 52.1h0M623.0 43.1h0M622.8 112.0h0M628.7 76.5h0M613.9 100.1h0M634.0 76.5h0M612.4 118.0h0M624.4 41.7h0M606.6 76.2h0" stroke="#b9b9b9" stroke-width="1.9" stroke-linecap="round" fill="none"/>
<line x1="530.0" y1="17.3" x2="561.5" y2="17.3" stroke="#bbbbbb" stroke-width="1.6"/>
<line x1="609.0" y1="17.3" x2="655.0" y2="17.3" stroke="#bbbbbb" stroke-width="1.6"/>
<path d="M503.5 17.3h0M511.0 17.3h0M514.0 17.3h0M520.0 17.3h0M523.0 17.3h0M526.0 17.3h0M658.0 17.3h0M663.0 17.3h0M672.0 17.3h0M676.0 17.3h0M678.5 17.3h0M629.0 20.5h0M633.0 20.5h0M637.0 20.5h0M641.0 21.0h0M642.0 23.0h0M613.0 20.6h0M615.0 22.5h0" stroke="#bbbbbb" stroke-width="1.7" stroke-linecap="round" fill="none"/>
<line x1="576.7" y1="11.5" x2="576.7" y2="169.5" stroke="#444" stroke-width="0.85" stroke-dasharray="2.8 3.8"/>
<line x1="592.1" y1="11.5" x2="592.1" y2="169.5" stroke="#444" stroke-width="0.85" stroke-dasharray="2.8 3.8"/>
<line x1="492.7" y1="144.4" x2="685.0" y2="144.4" stroke="#444" stroke-width="0.85" stroke-dasharray="3 3.7"/>
<path d="M563.5 73.7h0M566.2 91.4h0M566.8 103.0h0M568.0 104.8h0M567.5 126.2h0M570.5 125.0h0M571.8 133.8h0M573.8 138.9h0M575.1 146.5h0M575.6 148.5h0M576.9 151.5h0M578.1 155.3h0M580.7 159.1h0M583.2 162.9h0M585.2 161.6h0M587.0 161.1h0M602.1 108.6h0M596.6 125.0h0M605.2 125.7h0M596.6 135.1h0M574.3 143.9h0M572.6 136.4h0M569.3 128.8h0M565.5 102.2h0M576.1 152.8h0M582.2 161.6h0M584.4 163.1h0" stroke="#e8262b" stroke-width="2.3" stroke-linecap="round" fill="none"/>
<path d="M562.2 88.8h0M565.0 89.1h0M567.5 90.4h0M566.2 97.2h0M565.0 107.3h0M567.3 109.3h0M566.8 118.7h0M570.5 123.2h0M571.8 128.3h0M573.1 140.1h0M574.3 141.4h0M576.1 145.2h0M589.5 157.8h0M590.8 159.1h0M593.3 146.5h0M592.0 156.6h0M603.4 138.9h0M604.7 137.6h0M588.7 161.1h0M573.6 137.6h0M577.6 157.1h0M590.3 155.3h0" stroke="#3452a8" stroke-width="2.3" stroke-linecap="round" fill="none"/>
<circle cx="567.5" cy="101.0" r="2" fill="#5cbf4a"/>
<circle cx="580.0" cy="160.3" r="2" fill="#27b6e2"/>
<line x1="492.7" y1="11.4" x2="492.7" y2="169.5" stroke="#555" stroke-width="0.9"/>
<line x1="492.7" y1="169.5" x2="685.0" y2="169.5" stroke="#555" stroke-width="0.9"/>
<line x1="487.3" y1="163.4" x2="492.7" y2="163.4" stroke="#8a8a8a" stroke-width="0.8"/>
<text x="482.4" y="166.5" font-size="9.0" fill="#444" text-anchor="end" textLength="5.0" lengthAdjust="spacingAndGlyphs">0</text>
<line x1="487.3" y1="134.3" x2="492.7" y2="134.3" stroke="#8a8a8a" stroke-width="0.8"/>
<text x="482.4" y="137.4" font-size="9.0" fill="#444" text-anchor="end" textLength="5.0" lengthAdjust="spacingAndGlyphs">2</text>
<line x1="487.3" y1="105.1" x2="492.7" y2="105.1" stroke="#8a8a8a" stroke-width="0.8"/>
<text x="482.4" y="108.2" font-size="9.0" fill="#444" text-anchor="end" textLength="5.0" lengthAdjust="spacingAndGlyphs">4</text>
<line x1="487.3" y1="76.0" x2="492.7" y2="76.0" stroke="#8a8a8a" stroke-width="0.8"/>
<text x="482.4" y="79.1" font-size="9.0" fill="#444" text-anchor="end" textLength="5.0" lengthAdjust="spacingAndGlyphs">6</text>
<line x1="487.3" y1="46.8" x2="492.7" y2="46.8" stroke="#8a8a8a" stroke-width="0.8"/>
<text x="482.4" y="49.9" font-size="9.0" fill="#444" text-anchor="end" textLength="5.0" lengthAdjust="spacingAndGlyphs">8</text>
<line x1="487.3" y1="17.3" x2="492.7" y2="17.3" stroke="#8a8a8a" stroke-width="0.8"/>
<text x="482.4" y="20.4" font-size="9.0" fill="#444" text-anchor="end" textLength="13.5" lengthAdjust="spacingAndGlyphs">&gt;10</text>
<line x1="505.4" y1="169.5" x2="505.4" y2="174.8" stroke="#8a8a8a" stroke-width="0.8"/>
<text x="505.4" y="185.8" font-size="9.0" fill="#444" text-anchor="middle" textLength="10.5" lengthAdjust="spacingAndGlyphs">−6</text>
<line x1="531.8" y1="169.5" x2="531.8" y2="174.8" stroke="#8a8a8a" stroke-width="0.8"/>
<text x="531.8" y="185.8" font-size="9.0" fill="#444" text-anchor="middle" textLength="10.5" lengthAdjust="spacingAndGlyphs">−4</text>
<line x1="558.1" y1="169.5" x2="558.1" y2="174.8" stroke="#8a8a8a" stroke-width="0.8"/>
<text x="558.1" y="185.8" font-size="9.0" fill="#444" text-anchor="middle" textLength="10.5" lengthAdjust="spacingAndGlyphs">−2</text>
<line x1="584.4" y1="169.5" x2="584.4" y2="174.8" stroke="#8a8a8a" stroke-width="0.8"/>
<text x="584.4" y="185.8" font-size="9.0" fill="#444" text-anchor="middle" textLength="5.0" lengthAdjust="spacingAndGlyphs">0</text>
<line x1="610.7" y1="169.5" x2="610.7" y2="174.8" stroke="#8a8a8a" stroke-width="0.8"/>
<text x="610.7" y="185.8" font-size="9.0" fill="#444" text-anchor="middle" textLength="5.0" lengthAdjust="spacingAndGlyphs">2</text>
<line x1="637.0" y1="169.5" x2="637.0" y2="174.8" stroke="#8a8a8a" stroke-width="0.8"/>
<text x="637.0" y="185.8" font-size="9.0" fill="#444" text-anchor="middle" textLength="5.0" lengthAdjust="spacingAndGlyphs">4</text>
<line x1="663.4" y1="169.5" x2="663.4" y2="174.8" stroke="#8a8a8a" stroke-width="0.8"/>
<text x="663.4" y="185.8" font-size="9.0" fill="#444" text-anchor="middle" textLength="5.0" lengthAdjust="spacingAndGlyphs">6</text>
<text x="493.8" y="10.6" font-size="9.1" fill="#333" textLength="85.4" lengthAdjust="spacingAndGlyphs">1,853 downregulated</text>
<text x="603.4" y="10.9" font-size="9.1" fill="#333" textLength="72.6" lengthAdjust="spacingAndGlyphs">1,529 upregulated</text>
<text x="461.2" y="90.5" font-size="9.8" fill="#333" text-anchor="middle" textLength="54.6" lengthAdjust="spacingAndGlyphs" transform="rotate(-90 461.2 90.5)">−log<tspan font-size="6.5" dy="2">10</tspan><tspan dy="-2">(FDR)</tspan></text>
<text x="508.9" y="201.0" font-size="10.0" fill="#333" textLength="160.4" lengthAdjust="spacingAndGlyphs">log<tspan font-size="7" dy="2">2</tspan><tspan dy="-2">(fold change: patient/control)</tspan></text>
<text x="516.2" y="103.9" font-size="9.0" fill="#53b84a" textLength="24.7" lengthAdjust="spacingAndGlyphs">RPL3L</text>
<text x="540.7" y="166.8" font-size="9.0" fill="#27b0e0" textLength="19.4" lengthAdjust="spacingAndGlyphs">RPL3</text>
<text x="655.5" y="113.6" font-size="9.0" fill="#e8262b" textLength="16.4" lengthAdjust="spacingAndGlyphs">60S</text>
<text x="655.5" y="124.8" font-size="9.0" fill="#3d55a8" textLength="16.4" lengthAdjust="spacingAndGlyphs">40S</text>
<line x1="171.3" y1="234.6" x2="171.3" y2="322.6" stroke="#d4d4d4" stroke-width="0.8"/>
<line x1="215.4" y1="234.6" x2="215.4" y2="322.6" stroke="#d4d4d4" stroke-width="0.8"/>
<line x1="39.2" y1="323.1" x2="39.2" y2="407.8" stroke="#d4d4d4" stroke-width="0.8"/>
<line x1="83.2" y1="323.1" x2="83.2" y2="407.8" stroke="#d4d4d4" stroke-width="0.8"/>
<line x1="39.2" y1="234.6" x2="39.2" y2="236.0" stroke="#e0e0e0" stroke-width="0.8"/>
<line x1="83.2" y1="234.6" x2="83.2" y2="236.0" stroke="#e0e0e0" stroke-width="0.8"/>
<rect x="127.3" y="241.4" width="52.9" height="7.9" fill="#29abe2"/>
<rect x="127.3" y="263.1" width="52.2" height="7.9" fill="#29abe2"/>
<rect x="127.3" y="284.9" width="28.2" height="7.9" fill="#29abe2"/>
<rect x="127.3" y="306.7" width="27.5" height="7.9" fill="#29abe2"/>
<rect x="112.3" y="328.2" width="15.0" height="7.9" fill="#cc6eb5"/>
<rect x="112.3" y="350.1" width="15.0" height="7.9" fill="#cc6eb5"/>
<rect x="98.3" y="371.8" width="29.0" height="7.9" fill="#cc6eb5"/>
<rect x="80.3" y="393.7" width="47.0" height="7.9" fill="#cc6eb5"/>
<line x1="127.3" y1="234.4" x2="127.3" y2="407.8" stroke="#555" stroke-width="0.9"/>
<line x1="39.2" y1="407.8" x2="215.4" y2="407.8" stroke="#555" stroke-width="0.9"/>
<text x="39.2" y="418.9" font-size="9.2" fill="#444" text-anchor="middle" textLength="16.0" lengthAdjust="spacingAndGlyphs">−10</text>
<text x="83.2" y="418.9" font-size="9.2" fill="#444" text-anchor="middle" textLength="10.5" lengthAdjust="spacingAndGlyphs">−5</text>
<text x="127.3" y="418.9" font-size="9.2" fill="#444" text-anchor="middle" textLength="5.3" lengthAdjust="spacingAndGlyphs">0</text>
<text x="171.3" y="418.9" font-size="9.2" fill="#444" text-anchor="middle" textLength="5.3" lengthAdjust="spacingAndGlyphs">5</text>
<text x="215.4" y="418.9" font-size="9.2" fill="#444" text-anchor="middle" textLength="10.5" lengthAdjust="spacingAndGlyphs">10</text>
<text x="122.4" y="248.4" font-size="7.8" fill="#333" text-anchor="end" textLength="58.3" lengthAdjust="spacingAndGlyphs">Immune response</text>
<text x="122.4" y="270.1" font-size="7.8" fill="#333" text-anchor="end" textLength="89.2" lengthAdjust="spacingAndGlyphs">Adaptive immune response</text>
<text x="122.4" y="292.0" font-size="7.8" fill="#333" text-anchor="end" textLength="59.8" lengthAdjust="spacingAndGlyphs">T cell proliferation</text>
<text x="122.4" y="313.7" font-size="7.8" fill="#333" text-anchor="end" textLength="123.2" lengthAdjust="spacingAndGlyphs">G protein-coupled receptor signaling</text>
<text x="132.8" y="334.7" font-size="7.8" fill="#333" textLength="90.8" lengthAdjust="spacingAndGlyphs">Cardiac muscle contraction</text>
<text x="132.8" y="356.5" font-size="7.8" fill="#333" textLength="37.8" lengthAdjust="spacingAndGlyphs">Translation</text>
<text x="132.8" y="378.2" font-size="7.8" fill="#333" textLength="66.0" lengthAdjust="spacingAndGlyphs">Proton TM transport</text>
<text x="132.8" y="400.1" font-size="7.8" fill="#333" textLength="78.0" lengthAdjust="spacingAndGlyphs">Cytoplasmic translation</text>
<text x="180.6" y="280.2" font-size="8.1" fill="#3bb0e2" textLength="41.5" lengthAdjust="spacingAndGlyphs">Upregulated</text>
<text x="41.7" y="366.0" font-size="8.1" fill="#d27ec0" textLength="51.0" lengthAdjust="spacingAndGlyphs">Downregulated</text>
<text x="103.4" y="434.2" font-size="9.2" fill="#333" textLength="48.4" lengthAdjust="spacingAndGlyphs">log<tspan font-size="6.5" dy="2">10</tspan><tspan dy="-2">(FDR)</tspan></text>
<line x1="293.2" y1="396.1" x2="299.4" y2="396.1" stroke="#8a8a8a" stroke-width="0.8"/>
<text x="287.6" y="399.1" font-size="8.8" fill="#444" text-anchor="end" textLength="5.0" lengthAdjust="spacingAndGlyphs">0</text>
<line x1="293.2" y1="370.9" x2="299.4" y2="370.9" stroke="#8a8a8a" stroke-width="0.8"/>
<text x="287.6" y="373.9" font-size="8.8" fill="#444" text-anchor="end" textLength="12.4" lengthAdjust="spacingAndGlyphs">0.2</text>
<line x1="293.2" y1="345.7" x2="299.4" y2="345.7" stroke="#8a8a8a" stroke-width="0.8"/>
<text x="287.6" y="348.7" font-size="8.8" fill="#444" text-anchor="end" textLength="12.4" lengthAdjust="spacingAndGlyphs">0.4</text>
<line x1="293.2" y1="320.5" x2="299.4" y2="320.5" stroke="#8a8a8a" stroke-width="0.8"/>
<text x="287.6" y="323.5" font-size="8.8" fill="#444" text-anchor="end" textLength="12.4" lengthAdjust="spacingAndGlyphs">0.6</text>
<line x1="293.2" y1="295.3" x2="299.4" y2="295.3" stroke="#8a8a8a" stroke-width="0.8"/>
<text x="287.6" y="298.3" font-size="8.8" fill="#444" text-anchor="end" textLength="12.4" lengthAdjust="spacingAndGlyphs">0.8</text>
<line x1="293.2" y1="270.1" x2="299.4" y2="270.1" stroke="#8a8a8a" stroke-width="0.8"/>
<text x="287.6" y="273.1" font-size="8.8" fill="#444" text-anchor="end" textLength="12.4" lengthAdjust="spacingAndGlyphs">1.0</text>
<line x1="299.4" y1="265.4" x2="299.4" y2="401.3" stroke="#555" stroke-width="0.9"/>
<line x1="299.4" y1="401.3" x2="458.8" y2="401.3" stroke="#555" stroke-width="0.9"/>
<line x1="321.4" y1="401.3" x2="321.4" y2="406.6" stroke="#8a8a8a" stroke-width="0.8"/>
<text x="321.4" y="418.4" font-size="8.8" fill="#444" text-anchor="middle" textLength="10.2" lengthAdjust="spacingAndGlyphs">−2</text>
<line x1="348.9" y1="401.3" x2="348.9" y2="406.6" stroke="#8a8a8a" stroke-width="0.8"/>
<text x="348.9" y="418.4" font-size="8.8" fill="#444" text-anchor="middle" textLength="10.2" lengthAdjust="spacingAndGlyphs">−1</text>
<line x1="376.4" y1="401.3" x2="376.4" y2="406.6" stroke="#8a8a8a" stroke-width="0.8"/>
<text x="376.4" y="418.4" font-size="8.8" fill="#444" text-anchor="middle" textLength="5.0" lengthAdjust="spacingAndGlyphs">0</text>
<line x1="403.9" y1="401.3" x2="403.9" y2="406.6" stroke="#8a8a8a" stroke-width="0.8"/>
<text x="403.9" y="418.4" font-size="8.8" fill="#444" text-anchor="middle" textLength="5.0" lengthAdjust="spacingAndGlyphs">1</text>
<line x1="431.4" y1="401.3" x2="431.4" y2="406.6" stroke="#8a8a8a" stroke-width="0.8"/>
<text x="431.4" y="418.4" font-size="8.8" fill="#444" text-anchor="middle" textLength="5.0" lengthAdjust="spacingAndGlyphs">2</text>
<text x="267.3" y="409.4" font-size="10.2" fill="#333" textLength="51.0" lengthAdjust="spacingAndGlyphs" transform="rotate(-90 267.3 409.4)">Cumulative</text>
<text x="267.3" y="356.1" font-size="10.2" fill="#333" textLength="57.3" lengthAdjust="spacingAndGlyphs" transform="rotate(-90 267.3 356.1)">distribution</text>
<text x="267.3" y="295.9" font-size="10.2" fill="#333" textLength="38.2" lengthAdjust="spacingAndGlyphs" transform="rotate(-90 267.3 295.9)">function</text>
<text x="298.7" y="434.2" font-size="10.0" fill="#333" textLength="160.8" lengthAdjust="spacingAndGlyphs">log<tspan font-size="7" dy="2">2</tspan><tspan dy="-2">(fold change: patient/control)</tspan></text>
<text x="302.7" y="248.0" font-size="8.6" fill="#333" textLength="50.0" lengthAdjust="spacingAndGlyphs"><tspan font-style="italic">P</tspan> = 3.1 × 10<tspan font-size="5.6" dy="-3.6">−10</tspan></text>
<text x="302.7" y="258.6" font-size="8.6" fill="#333" textLength="133.6" lengthAdjust="spacingAndGlyphs">Median log<tspan font-size="6" dy="2">2</tspan><tspan dy="-2">(fold change) = −0.60</tspan></text>
<line x1="304.2" y1="278.8" x2="313.4" y2="278.8" stroke="#ec38b0" stroke-width="1.1"/>
<line x1="304.2" y1="291.4" x2="313.4" y2="291.4" stroke="#222" stroke-width="1.1"/>
<text x="319.2" y="281.7" font-size="8.8" fill="#333" textLength="22.8" lengthAdjust="spacingAndGlyphs"><tspan font-style="italic">n</tspan> = 85</text>
<text x="319.2" y="294.3" font-size="8.8" fill="#333" textLength="38.0" lengthAdjust="spacingAndGlyphs"><tspan font-style="italic">n</tspan> = 13,275</text>
<path d="M300.0,395.1 C302.3,395.0 310.1,394.5 314.0,394.2 C317.9,393.8 320.2,393.7 323.4,393.0 C326.5,392.3 329.6,391.5 332.7,390.0 C335.8,388.5 338.9,386.7 342.0,384.1 C345.2,381.6 348.3,378.7 351.4,374.8 C354.5,370.9 357.6,366.2 360.7,360.8 C363.8,355.3 367.0,348.3 370.1,342.1 C373.2,335.9 376.3,329.6 379.4,323.4 C382.5,317.2 385.6,310.4 388.8,304.7 C391.9,299.1 395.0,293.5 398.1,289.5 C401.2,285.6 404.3,283.1 407.5,280.9 C410.6,278.6 412.9,277.4 416.8,276.0 C420.7,274.6 426.1,273.3 430.8,272.5 C435.5,271.6 440.2,271.3 444.8,270.8 C449.5,270.4 456.5,269.9 458.8,269.7" fill="none" stroke="#2a2a2a" stroke-width="1.1" stroke-linejoin="round"/>
<path d="M299.4,396.1 H324.53 V394.62 H329.90 V393.14 H332.32 V391.65 H332.51 V390.17 H332.66 V388.69 H332.81 V387.21 H333.51 V385.72 H334.53 V384.24 H334.74 V382.76 H335.73 V381.28 H338.30 V379.79 H338.71 V378.31 H339.66 V376.83 H340.10 V375.35 H340.64 V373.86 H340.87 V372.38 H341.53 V370.90 H343.26 V369.42 H344.47 V367.94 H346.38 V366.45 H347.27 V364.97 H347.38 V363.49 H347.85 V362.01 H348.08 V360.52 H348.28 V359.04 H348.48 V357.56 H348.80 V356.08 H348.89 V354.59 H349.08 V353.11 H349.25 V351.63 H349.37 V350.15 H349.83 V348.66 H350.53 V347.18 H352.24 V345.70 H352.71 V344.22 H353.82 V342.74 H354.37 V341.25 H354.45 V339.77 H354.86 V338.29 H355.29 V336.81 H355.98 V335.32 H356.13 V333.84 H356.42 V332.36 H356.59 V330.88 H356.89 V329.39 H357.10 V327.91 H357.37 V326.43 H357.73 V324.95 H358.03 V323.46 H358.65 V321.98 H361.22 V320.50 H361.64 V319.02 H361.96 V317.54 H362.34 V316.05 H362.57 V314.57 H362.74 V313.09 H363.45 V311.61 H364.02 V310.12 H364.51 V308.64 H364.79 V307.16 H365.13 V305.68 H365.27 V304.19 H365.76 V302.71 H365.98 V301.23 H368.37 V299.75 H373.70 V298.26 H374.55 V296.78 H375.08 V295.30 H375.13 V293.82 H377.48 V292.34 H378.30 V290.85 H378.66 V289.37 H379.23 V287.89 H384.61 V286.41 H386.19 V284.92 H386.25 V283.44 H386.83 V281.96 H386.99 V280.48 H387.77 V278.99 H390.04 V277.51 H394.38 V276.03 H397.53 V274.55 H400.21 V273.06 H405.00 V271.58 H405.95 V270.10 H458.8" fill="none" stroke="#ec38b0" stroke-width="1.1" stroke-linejoin="round"/>
<text x="410.6" y="338.8" font-size="9.0" fill="#e8409f" textLength="40.2" lengthAdjust="spacingAndGlyphs">Ribosome</text>
<line x1="506.1" y1="396.1" x2="512.3" y2="396.1" stroke="#8a8a8a" stroke-width="0.8"/>
<text x="501.7" y="399.1" font-size="8.8" fill="#444" text-anchor="end" textLength="5.0" lengthAdjust="spacingAndGlyphs">0</text>
<line x1="506.1" y1="371.0" x2="512.3" y2="371.0" stroke="#8a8a8a" stroke-width="0.8"/>
<text x="501.7" y="374.0" font-size="8.8" fill="#444" text-anchor="end" textLength="12.4" lengthAdjust="spacingAndGlyphs">0.2</text>
<line x1="506.1" y1="345.8" x2="512.3" y2="345.8" stroke="#8a8a8a" stroke-width="0.8"/>
<text x="501.7" y="348.8" font-size="8.8" fill="#444" text-anchor="end" textLength="12.4" lengthAdjust="spacingAndGlyphs">0.4</text>
<line x1="506.1" y1="320.7" x2="512.3" y2="320.7" stroke="#8a8a8a" stroke-width="0.8"/>
<text x="501.7" y="323.7" font-size="8.8" fill="#444" text-anchor="end" textLength="12.4" lengthAdjust="spacingAndGlyphs">0.6</text>
<line x1="506.1" y1="295.5" x2="512.3" y2="295.5" stroke="#8a8a8a" stroke-width="0.8"/>
<text x="501.7" y="298.5" font-size="8.8" fill="#444" text-anchor="end" textLength="12.4" lengthAdjust="spacingAndGlyphs">0.8</text>
<line x1="506.1" y1="270.4" x2="512.3" y2="270.4" stroke="#8a8a8a" stroke-width="0.8"/>
<text x="501.7" y="273.4" font-size="8.8" fill="#444" text-anchor="end" textLength="12.4" lengthAdjust="spacingAndGlyphs">1.0</text>
<line x1="512.3" y1="265.2" x2="512.3" y2="400.6" stroke="#555" stroke-width="0.9"/>
<line x1="512.3" y1="400.6" x2="673.2" y2="400.6" stroke="#555" stroke-width="0.9"/>
<line x1="535.9" y1="400.6" x2="535.9" y2="405.9" stroke="#8a8a8a" stroke-width="0.8"/>
<text x="535.9" y="418.4" font-size="8.8" fill="#444" text-anchor="middle" textLength="10.2" lengthAdjust="spacingAndGlyphs">−2</text>
<line x1="562.2" y1="400.6" x2="562.2" y2="405.9" stroke="#8a8a8a" stroke-width="0.8"/>
<text x="562.2" y="418.4" font-size="8.8" fill="#444" text-anchor="middle" textLength="10.2" lengthAdjust="spacingAndGlyphs">−1</text>
<line x1="588.5" y1="400.6" x2="588.5" y2="405.9" stroke="#8a8a8a" stroke-width="0.8"/>
<text x="588.5" y="418.4" font-size="8.8" fill="#444" text-anchor="middle" textLength="5.0" lengthAdjust="spacingAndGlyphs">0</text>
<line x1="614.8" y1="400.6" x2="614.8" y2="405.9" stroke="#8a8a8a" stroke-width="0.8"/>
<text x="614.8" y="418.4" font-size="8.8" fill="#444" text-anchor="middle" textLength="5.0" lengthAdjust="spacingAndGlyphs">1</text>
<line x1="641.1" y1="400.6" x2="641.1" y2="405.9" stroke="#8a8a8a" stroke-width="0.8"/>
<text x="641.1" y="418.4" font-size="8.8" fill="#444" text-anchor="middle" textLength="5.0" lengthAdjust="spacingAndGlyphs">2</text>
<line x1="667.4" y1="400.6" x2="667.4" y2="405.9" stroke="#8a8a8a" stroke-width="0.8"/>
<text x="667.4" y="418.4" font-size="8.8" fill="#444" text-anchor="middle" textLength="5.0" lengthAdjust="spacingAndGlyphs">3</text>
<text x="481.6" y="409.4" font-size="10.2" fill="#333" textLength="51.0" lengthAdjust="spacingAndGlyphs" transform="rotate(-90 481.6 409.4)">Cumulative</text>
<text x="481.6" y="356.1" font-size="10.2" fill="#333" textLength="57.3" lengthAdjust="spacingAndGlyphs" transform="rotate(-90 481.6 356.1)">distribution</text>
<text x="481.6" y="295.9" font-size="10.2" fill="#333" textLength="38.2" lengthAdjust="spacingAndGlyphs" transform="rotate(-90 481.6 295.9)">function</text>
<text x="512.4" y="434.2" font-size="10.0" fill="#333" textLength="160.8" lengthAdjust="spacingAndGlyphs">log<tspan font-size="7" dy="2">2</tspan><tspan dy="-2">(fold change: patient/control)</tspan></text>
<text x="516.4" y="250.1" font-size="8.6" fill="#333" textLength="51.4" lengthAdjust="spacingAndGlyphs"><tspan font-style="italic">P</tspan> = 1.9 × 10<tspan font-size="5.6" dy="-3.6">−53</tspan></text>
<text x="516.4" y="260.7" font-size="8.6" fill="#333" textLength="128.5" lengthAdjust="spacingAndGlyphs">Median log<tspan font-size="6" dy="2">2</tspan><tspan dy="-2">(fold change) = 0.48</tspan></text>
<line x1="517.8" y1="278.3" x2="527.0" y2="278.3" stroke="#33b3e6" stroke-width="1.1"/>
<line x1="517.8" y1="290.9" x2="527.0" y2="290.9" stroke="#222" stroke-width="1.1"/>
<text x="532.8" y="281.2" font-size="8.8" fill="#333" textLength="27.0" lengthAdjust="spacingAndGlyphs"><tspan font-style="normal">n</tspan> = 610</text>
<text x="532.8" y="293.8" font-size="8.8" fill="#333" textLength="38.6" lengthAdjust="spacingAndGlyphs"><tspan font-style="normal">n</tspan> = 12,750</text>
<path d="M512.5,395.3 C514.6,395.1 521.2,394.6 524.9,394.1 C528.6,393.6 531.5,393.2 534.8,392.3 C538.1,391.5 541.6,390.5 544.7,389.1 C547.9,387.7 550.5,385.9 553.4,383.6 C556.3,381.4 559.2,378.9 562.1,375.4 C565.0,372.0 568.1,367.4 570.8,363.0 C573.5,358.7 576.0,353.9 578.3,349.4 C580.5,344.8 582.4,340.5 584.5,335.7 C586.5,331.0 588.6,325.6 590.7,320.8 C592.7,316.1 594.8,311.3 596.9,307.2 C598.9,303.1 601.0,299.1 603.1,296.0 C605.1,292.9 607.0,290.8 609.3,288.6 C611.6,286.4 613.8,284.6 616.7,282.9 C619.6,281.1 622.9,279.3 626.7,277.9 C630.4,276.5 634.5,275.4 639.1,274.4 C643.6,273.4 648.4,272.6 654.0,271.9 C659.5,271.3 669.5,270.7 672.6,270.5" fill="none" stroke="#2a2a2a" stroke-width="1.1" stroke-linejoin="round"/>
<path d="M512.3,396.1 H525.05 V395.89 H528.14 V395.69 H531.24 V395.48 H534.33 V395.28 H537.42 V395.07 H540.20 V394.86 H541.96 V394.66 H543.73 V394.45 H545.50 V394.25 H547.26 V394.04 H549.03 V393.83 H550.80 V393.63 H552.56 V393.42 H554.33 V393.22 H555.60 V393.01 H556.74 V392.80 H557.89 V392.60 H559.03 V392.39 H560.17 V392.18 H561.32 V391.98 H562.46 V391.77 H563.61 V391.57 H564.75 V391.36 H565.90 V391.15 H567.04 V390.95 H567.55 V390.74 H568.04 V390.54 H568.52 V390.33 H569.01 V390.12 H569.49 V389.92 H569.98 V389.71 H570.46 V389.51 H570.95 V389.30 H571.43 V389.09 H571.92 V388.89 H572.40 V388.68 H572.89 V388.48 H573.37 V388.27 H573.86 V388.06 H574.34 V387.86 H574.83 V387.65 H575.31 V387.45 H575.80 V387.24 H576.28 V387.03 H576.77 V386.83 H577.11 V386.62 H577.32 V386.41 H577.53 V386.21 H577.73 V386.00 H577.94 V385.80 H578.14 V385.59 H578.35 V385.38 H578.56 V385.18 H578.76 V384.97 H578.97 V384.77 H579.18 V384.56 H579.38 V384.35 H579.59 V384.15 H579.79 V383.94 H580.00 V383.74 H580.21 V383.53 H580.41 V383.32 H580.62 V383.12 H580.82 V382.91 H581.03 V382.71 H581.24 V382.50 H581.44 V382.29 H581.65 V382.09 H581.85 V381.88 H582.06 V381.68 H582.27 V381.47 H582.47 V381.26 H582.68 V381.06 H582.88 V380.85 H583.09 V380.65 H583.30 V380.44 H583.50 V380.23 H583.71 V380.03 H583.91 V379.82 H584.12 V379.61 H584.33 V379.41 H584.50 V379.20 H584.62 V379.00 H584.74 V378.79 H584.85 V378.58 H584.97 V378.38 H585.09 V378.17 H585.21 V377.97 H585.33 V377.76 H585.44 V377.55 H585.56 V377.35 H585.68 V377.14 H585.80 V376.94 H585.91 V376.73 H586.03 V376.52 H586.15 V376.32 H586.27 V376.11 H586.39 V375.91 H586.50 V375.70 H586.62 V375.49 H586.74 V375.29 H586.86 V375.08 H586.97 V374.88 H587.09 V374.67 H587.21 V374.46 H587.33 V374.26 H587.45 V374.05 H587.56 V373.84 H587.68 V373.64 H587.80 V373.43 H587.92 V373.23 H588.03 V373.02 H588.15 V372.81 H588.27 V372.61 H588.39 V372.40 H588.51 V372.20 H588.62 V371.99 H588.74 V371.78 H588.86 V371.58 H588.98 V371.37 H589.09 V371.17 H589.21 V370.96 H589.33 V370.75 H589.44 V370.55 H589.50 V370.34 H589.56 V370.14 H589.63 V369.93 H589.69 V369.72 H589.75 V369.52 H589.82 V369.31 H589.88 V369.11 H589.94 V368.90 H590.01 V368.69 H590.07 V368.49 H590.13 V368.28 H590.20 V368.08 H590.26 V367.87 H590.32 V367.66 H590.39 V367.46 H590.45 V367.25 H590.51 V367.04 H590.58 V366.84 H590.64 V366.63 H590.70 V366.43 H590.77 V366.22 H590.83 V366.01 H590.89 V365.81 H590.96 V365.60 H591.02 V365.40 H591.09 V365.19 H591.15 V364.98 H591.21 V364.78 H591.28 V364.57 H591.34 V364.37 H591.40 V364.16 H591.47 V363.95 H591.53 V363.75 H591.59 V363.54 H591.66 V363.34 H591.72 V363.13 H591.78 V362.92 H591.85 V362.72 H591.91 V362.51 H591.97 V362.31 H592.04 V362.10 H592.10 V361.89 H592.16 V361.69 H592.23 V361.48 H592.29 V361.27 H592.35 V361.07 H592.42 V360.86 H592.48 V360.66 H592.54 V360.45 H592.61 V360.24 H592.67 V360.04 H592.73 V359.83 H592.80 V359.63 H592.86 V359.42 H592.92 V359.21 H592.99 V359.01 H593.05 V358.80 H593.11 V358.60 H593.18 V358.39 H593.24 V358.18 H593.30 V357.98 H593.37 V357.77 H593.43 V357.57 H593.49 V357.36 H593.56 V357.15 H593.62 V356.95 H593.68 V356.74 H593.75 V356.54 H593.81 V356.33 H593.87 V356.12 H593.94 V355.92 H594.00 V355.71 H594.07 V355.51 H594.13 V355.30 H594.19 V355.09 H594.26 V354.89 H594.32 V354.68 H594.38 V354.47 H594.43 V354.27 H594.49 V354.06 H594.54 V353.86 H594.59 V353.65 H594.64 V353.44 H594.69 V353.24 H594.74 V353.03 H594.80 V352.83 H594.85 V352.62 H594.90 V352.41 H594.95 V352.21 H595.00 V352.00 H595.05 V351.80 H595.10 V351.59 H595.16 V351.38 H595.21 V351.18 H595.26 V350.97 H595.31 V350.77 H595.36 V350.56 H595.41 V350.35 H595.47 V350.15 H595.52 V349.94 H595.57 V349.74 H595.62 V349.53 H595.67 V349.32 H595.72 V349.12 H595.77 V348.91 H595.83 V348.70 H595.88 V348.50 H595.93 V348.29 H595.98 V348.09 H596.03 V347.88 H596.08 V347.67 H596.13 V347.47 H596.19 V347.26 H596.24 V347.06 H596.29 V346.85 H596.34 V346.64 H596.39 V346.44 H596.44 V346.23 H596.50 V346.03 H596.55 V345.82 H596.60 V345.61 H596.65 V345.41 H596.70 V345.20 H596.75 V345.00 H596.80 V344.79 H596.86 V344.58 H596.91 V344.38 H596.96 V344.17 H597.01 V343.97 H597.06 V343.76 H597.11 V343.55 H597.17 V343.35 H597.22 V343.14 H597.27 V342.94 H597.32 V342.73 H597.37 V342.52 H597.42 V342.32 H597.47 V342.11 H597.53 V341.90 H597.58 V341.70 H597.63 V341.49 H597.68 V341.29 H597.73 V341.08 H597.78 V340.87 H597.83 V340.67 H597.89 V340.46 H597.94 V340.26 H597.99 V340.05 H598.04 V339.84 H598.09 V339.64 H598.14 V339.43 H598.20 V339.23 H598.25 V339.02 H598.30 V338.81 H598.35 V338.61 H598.40 V338.40 H598.45 V338.20 H598.50 V337.99 H598.56 V337.78 H598.61 V337.58 H598.66 V337.37 H598.71 V337.17 H598.76 V336.96 H598.81 V336.75 H598.87 V336.55 H598.92 V336.34 H598.97 V336.13 H599.02 V335.93 H599.07 V335.72 H599.12 V335.52 H599.17 V335.31 H599.23 V335.10 H599.28 V334.90 H599.33 V334.69 H599.38 V334.49 H599.43 V334.28 H599.48 V334.07 H599.53 V333.87 H599.59 V333.66 H599.64 V333.46 H599.69 V333.25 H599.74 V333.04 H599.79 V332.84 H599.84 V332.63 H599.90 V332.43 H599.95 V332.22 H600.00 V332.01 H600.05 V331.81 H600.10 V331.60 H600.15 V331.40 H600.20 V331.19 H600.26 V330.98 H600.31 V330.78 H600.36 V330.57 H600.41 V330.37 H600.46 V330.16 H600.51 V329.95 H600.57 V329.75 H600.62 V329.54 H600.67 V329.33 H600.72 V329.13 H600.77 V328.92 H600.82 V328.72 H600.87 V328.51 H600.93 V328.30 H600.98 V328.10 H601.03 V327.89 H601.08 V327.69 H601.13 V327.48 H601.18 V327.27 H601.23 V327.07 H601.29 V326.86 H601.34 V326.66 H601.39 V326.45 H601.44 V326.24 H601.49 V326.04 H601.54 V325.83 H601.60 V325.63 H601.65 V325.42 H601.70 V325.21 H601.75 V325.01 H601.80 V324.80 H601.86 V324.60 H601.92 V324.39 H601.98 V324.18 H602.04 V323.98 H602.10 V323.77 H602.17 V323.56 H602.23 V323.36 H602.29 V323.15 H602.35 V322.95 H602.41 V322.74 H602.48 V322.53 H602.54 V322.33 H602.60 V322.12 H602.66 V321.92 H602.72 V321.71 H602.78 V321.50 H602.85 V321.30 H602.91 V321.09 H602.97 V320.89 H603.03 V320.68 H603.09 V320.47 H603.16 V320.27 H603.22 V320.06 H603.28 V319.86 H603.34 V319.65 H603.40 V319.44 H603.46 V319.24 H603.53 V319.03 H603.59 V318.83 H603.65 V318.62 H603.71 V318.41 H603.77 V318.21 H603.84 V318.00 H603.90 V317.80 H603.96 V317.59 H604.02 V317.38 H604.08 V317.18 H604.14 V316.97 H604.21 V316.76 H604.27 V316.56 H604.33 V316.35 H604.39 V316.15 H604.45 V315.94 H604.52 V315.73 H604.58 V315.53 H604.64 V315.32 H604.70 V315.12 H604.76 V314.91 H604.82 V314.70 H604.89 V314.50 H604.95 V314.29 H605.01 V314.09 H605.07 V313.88 H605.13 V313.67 H605.20 V313.47 H605.26 V313.26 H605.32 V313.06 H605.38 V312.85 H605.44 V312.64 H605.50 V312.44 H605.57 V312.23 H605.65 V312.03 H605.72 V311.82 H605.80 V311.61 H605.88 V311.41 H605.95 V311.20 H606.03 V310.99 H606.11 V310.79 H606.19 V310.58 H606.26 V310.38 H606.34 V310.17 H606.42 V309.96 H606.50 V309.76 H606.57 V309.55 H606.65 V309.35 H606.73 V309.14 H606.80 V308.93 H606.88 V308.73 H606.96 V308.52 H607.04 V308.32 H607.11 V308.11 H607.19 V307.90 H607.27 V307.70 H607.35 V307.49 H607.42 V307.29 H607.50 V307.08 H607.58 V306.87 H607.65 V306.67 H607.73 V306.46 H607.81 V306.26 H607.89 V306.05 H607.96 V305.84 H608.04 V305.64 H608.12 V305.43 H608.20 V305.23 H608.27 V305.02 H608.35 V304.81 H608.43 V304.61 H608.50 V304.40 H608.58 V304.19 H608.66 V303.99 H608.74 V303.78 H608.81 V303.58 H608.89 V303.37 H608.97 V303.16 H609.05 V302.96 H609.12 V302.75 H609.20 V302.55 H609.28 V302.34 H609.38 V302.13 H609.48 V301.93 H609.59 V301.72 H609.69 V301.52 H609.79 V301.31 H609.89 V301.10 H610.00 V300.90 H610.10 V300.69 H610.20 V300.49 H610.31 V300.28 H610.41 V300.07 H610.51 V299.87 H610.62 V299.66 H610.72 V299.46 H610.82 V299.25 H610.93 V299.04 H611.03 V298.84 H611.13 V298.63 H611.23 V298.42 H611.34 V298.22 H611.44 V298.01 H611.54 V297.81 H611.65 V297.60 H611.75 V297.39 H611.85 V297.19 H611.96 V296.98 H612.06 V296.78 H612.16 V296.57 H612.26 V296.36 H612.37 V296.16 H612.47 V295.95 H612.57 V295.75 H612.68 V295.54 H612.78 V295.33 H612.88 V295.13 H612.99 V294.92 H613.09 V294.72 H613.19 V294.51 H613.29 V294.30 H613.40 V294.10 H613.50 V293.89 H613.60 V293.69 H613.71 V293.48 H613.81 V293.27 H613.91 V293.07 H614.02 V292.86 H614.12 V292.66 H614.22 V292.45 H614.33 V292.24 H614.43 V292.04 H614.53 V291.83 H614.63 V291.62 H614.74 V291.42 H614.84 V291.21 H614.94 V291.01 H615.05 V290.80 H615.15 V290.59 H615.25 V290.39 H615.36 V290.18 H615.46 V289.98 H615.64 V289.77 H615.84 V289.56 H616.05 V289.36 H616.26 V289.15 H616.46 V288.95 H616.67 V288.74 H616.87 V288.53 H617.08 V288.33 H617.29 V288.12 H617.49 V287.92 H617.70 V287.71 H617.90 V287.50 H618.11 V287.30 H618.32 V287.09 H618.52 V286.89 H618.73 V286.68 H618.94 V286.47 H619.14 V286.27 H619.35 V286.06 H619.55 V285.85 H619.76 V285.65 H619.97 V285.44 H620.17 V285.24 H620.38 V285.03 H620.58 V284.82 H620.79 V284.62 H621.00 V284.41 H621.20 V284.21 H621.41 V284.00 H621.61 V283.79 H621.89 V283.59 H622.19 V283.38 H622.50 V283.18 H622.81 V282.97 H623.12 V282.76 H623.43 V282.56 H623.74 V282.35 H624.05 V282.15 H624.36 V281.94 H624.67 V281.73 H624.98 V281.53 H625.29 V281.32 H625.59 V281.12 H625.90 V280.91 H626.21 V280.70 H626.52 V280.50 H626.83 V280.29 H627.14 V280.09 H627.45 V279.88 H627.76 V279.67 H628.07 V279.47 H628.38 V279.26 H628.69 V279.05 H628.99 V278.85 H629.48 V278.64 H630.11 V278.44 H630.75 V278.23 H631.38 V278.02 H632.02 V277.82 H632.65 V277.61 H633.28 V277.41 H633.92 V277.20 H634.55 V276.99 H635.19 V276.79 H635.82 V276.58 H636.45 V276.38 H637.09 V276.17 H637.72 V275.96 H638.36 V275.76 H638.99 V275.55 H640.16 V275.35 H641.39 V275.14 H642.63 V274.93 H643.86 V274.73 H645.10 V274.52 H646.34 V274.32 H647.57 V274.11 H648.81 V273.90 H650.05 V273.70 H651.28 V273.49 H652.52 V273.28 H653.76 V273.08 H655.25 V272.87 H656.80 V272.67 H658.34 V272.46 H659.89 V272.25 H661.43 V272.05 H662.98 V271.84 H664.52 V271.64 H666.07 V271.43 H667.62 V271.22 H669.16 V271.02 H670.71 V270.81 H672.25 V270.61 H672.57 V270.40 H673.2" fill="none" stroke="#33b3e6" stroke-width="1.1" stroke-linejoin="round"/>
<text x="618.5" y="341.5" font-size="9.0" fill="#35ade2" textLength="40.7" lengthAdjust="spacingAndGlyphs">Apoptosis</text>
<line x1="54.2" y1="611.3" x2="60.4" y2="611.3" stroke="#8a8a8a" stroke-width="0.8"/>
<text x="49.0" y="614.3" font-size="8.8" fill="#444" text-anchor="end" textLength="5.0" lengthAdjust="spacingAndGlyphs">0</text>
<line x1="54.2" y1="586.2" x2="60.4" y2="586.2" stroke="#8a8a8a" stroke-width="0.8"/>
<text x="49.0" y="589.2" font-size="8.8" fill="#444" text-anchor="end" textLength="12.4" lengthAdjust="spacingAndGlyphs">0.2</text>
<line x1="54.2" y1="561.0" x2="60.4" y2="561.0" stroke="#8a8a8a" stroke-width="0.8"/>
<text x="49.0" y="564.0" font-size="8.8" fill="#444" text-anchor="end" textLength="12.4" lengthAdjust="spacingAndGlyphs">0.4</text>
<line x1="54.2" y1="535.9" x2="60.4" y2="535.9" stroke="#8a8a8a" stroke-width="0.8"/>
<text x="49.0" y="538.9" font-size="8.8" fill="#444" text-anchor="end" textLength="12.4" lengthAdjust="spacingAndGlyphs">0.6</text>
<line x1="54.2" y1="510.7" x2="60.4" y2="510.7" stroke="#8a8a8a" stroke-width="0.8"/>
<text x="49.0" y="513.7" font-size="8.8" fill="#444" text-anchor="end" textLength="12.4" lengthAdjust="spacingAndGlyphs">0.8</text>
<line x1="54.2" y1="485.6" x2="60.4" y2="485.6" stroke="#8a8a8a" stroke-width="0.8"/>
<text x="49.0" y="488.6" font-size="8.8" fill="#444" text-anchor="end" textLength="12.4" lengthAdjust="spacingAndGlyphs">1.0</text>
<line x1="60.4" y1="480.6" x2="60.4" y2="616.1" stroke="#555" stroke-width="0.9"/>
<line x1="60.4" y1="616.1" x2="223.7" y2="616.1" stroke="#555" stroke-width="0.9"/>
<line x1="81.6" y1="616.1" x2="81.6" y2="621.4" stroke="#8a8a8a" stroke-width="0.8"/>
<text x="81.6" y="633.1" font-size="8.8" fill="#444" text-anchor="middle" textLength="10.2" lengthAdjust="spacingAndGlyphs">−2</text>
<line x1="106.0" y1="616.1" x2="106.0" y2="621.4" stroke="#8a8a8a" stroke-width="0.8"/>
<text x="106.0" y="633.1" font-size="8.8" fill="#444" text-anchor="middle" textLength="10.2" lengthAdjust="spacingAndGlyphs">−1</text>
<line x1="130.5" y1="616.1" x2="130.5" y2="621.4" stroke="#8a8a8a" stroke-width="0.8"/>
<text x="130.5" y="633.1" font-size="8.8" fill="#444" text-anchor="middle" textLength="5.0" lengthAdjust="spacingAndGlyphs">0</text>
<line x1="154.9" y1="616.1" x2="154.9" y2="621.4" stroke="#8a8a8a" stroke-width="0.8"/>
<text x="154.9" y="633.1" font-size="8.8" fill="#444" text-anchor="middle" textLength="5.0" lengthAdjust="spacingAndGlyphs">1</text>
<line x1="179.4" y1="616.1" x2="179.4" y2="621.4" stroke="#8a8a8a" stroke-width="0.8"/>
<text x="179.4" y="633.1" font-size="8.8" fill="#444" text-anchor="middle" textLength="5.0" lengthAdjust="spacingAndGlyphs">2</text>
<line x1="203.8" y1="616.1" x2="203.8" y2="621.4" stroke="#8a8a8a" stroke-width="0.8"/>
<text x="203.8" y="633.1" font-size="8.8" fill="#444" text-anchor="middle" textLength="5.0" lengthAdjust="spacingAndGlyphs">3</text>
<text x="28.4" y="624.2" font-size="10.2" fill="#333" textLength="51.0" lengthAdjust="spacingAndGlyphs" transform="rotate(-90 28.4 624.2)">Cumulative</text>
<text x="28.4" y="570.9" font-size="10.2" fill="#333" textLength="57.3" lengthAdjust="spacingAndGlyphs" transform="rotate(-90 28.4 570.9)">distribution</text>
<text x="28.4" y="510.7" font-size="10.2" fill="#333" textLength="38.2" lengthAdjust="spacingAndGlyphs" transform="rotate(-90 28.4 510.7)">function</text>
<text x="62.2" y="649.8" font-size="10.0" fill="#333" textLength="160.0" lengthAdjust="spacingAndGlyphs">log<tspan font-size="7" dy="2">2</tspan><tspan dy="-2">(fold change: patient/control)</tspan></text>
<text x="62.5" y="461.9" font-size="8.6" fill="#333" textLength="48.8" lengthAdjust="spacingAndGlyphs"><tspan font-style="italic">P</tspan> = 1.5 × 10<tspan font-size="5.6" dy="-3.6">−17</tspan></text>
<text x="62.5" y="472.5" font-size="8.6" fill="#333" textLength="127.7" lengthAdjust="spacingAndGlyphs">Median log<tspan font-size="6" dy="2">2</tspan><tspan dy="-2">(fold change) = 0.45</tspan></text>
<line x1="65.7" y1="493.8" x2="74.9" y2="493.8" stroke="#33b3e6" stroke-width="1.1"/>
<line x1="65.7" y1="506.4" x2="74.9" y2="506.4" stroke="#222" stroke-width="1.1"/>
<text x="80.7" y="496.7" font-size="8.8" fill="#333" textLength="29.3" lengthAdjust="spacingAndGlyphs"><tspan font-style="italic">n</tspan> = 390</text>
<text x="80.7" y="509.3" font-size="8.8" fill="#333" textLength="38.7" lengthAdjust="spacingAndGlyphs"><tspan font-style="italic">n</tspan> = 12,970</text>
<path d="M60.5,610.3 C62.6,610.1 69.2,609.7 72.9,609.1 C76.6,608.4 79.5,607.8 82.8,606.6 C86.1,605.3 89.6,603.7 92.7,601.6 C95.9,599.5 98.5,597.1 101.4,594.2 C104.3,591.3 107.4,588.0 110.1,584.2 C112.8,580.5 115.1,576.6 117.6,571.8 C120.1,567.1 122.5,561.5 125.0,555.7 C127.5,549.9 130.0,542.9 132.5,537.1 C134.9,531.3 137.4,525.7 139.9,521.0 C142.4,516.2 144.9,512.1 147.4,508.5 C149.8,505.0 152.3,502.1 154.8,499.9 C157.3,497.6 159.3,496.5 162.2,494.9 C165.1,493.3 168.0,491.7 172.2,490.4 C176.3,489.2 182.1,488.1 187.1,487.4 C192.0,486.7 196.0,486.6 202.0,486.2 C208.0,485.8 219.5,485.2 223.1,485.0" fill="none" stroke="#2a2a2a" stroke-width="1.1" stroke-linejoin="round"/>
<path d="M60.4,611.3 H66.43 V610.98 H71.98 V610.66 H79.69 V610.33 H83.02 V610.01 H83.54 V609.69 H86.51 V609.37 H92.24 V609.04 H92.48 V608.72 H94.25 V608.40 H98.20 V608.08 H98.59 V607.75 H100.70 V607.43 H101.04 V607.11 H101.97 V606.79 H102.16 V606.47 H103.45 V606.14 H104.45 V605.82 H104.81 V605.50 H105.80 V605.18 H106.46 V604.85 H106.53 V604.53 H107.91 V604.21 H108.27 V603.89 H108.54 V603.56 H108.83 V603.24 H109.92 V602.92 H110.12 V602.60 H110.78 V602.28 H111.38 V601.95 H111.74 V601.63 H112.37 V601.31 H112.48 V600.99 H113.25 V600.66 H113.48 V600.34 H114.32 V600.02 H114.68 V599.70 H114.76 V599.37 H115.14 V599.05 H115.44 V598.73 H116.02 V598.41 H116.07 V598.09 H116.42 V597.76 H116.55 V597.44 H116.90 V597.12 H117.12 V596.80 H117.38 V596.47 H117.74 V596.15 H118.01 V595.83 H118.41 V595.51 H118.59 V595.18 H118.95 V594.86 H119.19 V594.54 H119.52 V594.22 H119.66 V593.90 H119.72 V593.57 H120.27 V593.25 H120.58 V592.93 H120.83 V592.61 H120.96 V592.28 H121.29 V591.96 H121.32 V591.64 H121.59 V591.32 H121.67 V590.99 H121.75 V590.67 H121.84 V590.35 H122.15 V590.03 H122.26 V589.71 H122.31 V589.38 H122.55 V589.06 H122.61 V588.74 H122.69 V588.42 H122.86 V588.09 H123.10 V587.77 H123.22 V587.45 H123.26 V587.13 H123.48 V586.80 H123.50 V586.48 H123.78 V586.16 H123.83 V585.84 H124.09 V585.52 H124.24 V585.19 H124.28 V584.87 H124.52 V584.55 H124.52 V584.23 H124.61 V583.90 H124.86 V583.58 H124.88 V583.26 H125.06 V582.94 H125.30 V582.61 H125.54 V582.29 H125.60 V581.97 H125.75 V581.65 H126.17 V581.33 H126.20 V581.00 H126.56 V580.68 H126.73 V580.36 H126.77 V580.04 H126.97 V579.71 H127.18 V579.39 H127.39 V579.07 H127.56 V578.75 H127.74 V578.42 H127.94 V578.10 H128.21 V577.78 H128.28 V577.46 H128.44 V577.14 H128.70 V576.81 H128.76 V576.49 H128.96 V576.17 H129.33 V575.85 H129.39 V575.52 H129.58 V575.20 H129.61 V574.88 H129.91 V574.56 H130.10 V574.23 H130.13 V573.91 H130.40 V573.59 H130.54 V573.27 H130.56 V572.95 H130.83 V572.62 H130.94 V572.30 H131.13 V571.98 H131.20 V571.66 H131.42 V571.33 H131.56 V571.01 H131.57 V570.69 H131.71 V570.37 H131.99 V570.04 H132.18 V569.72 H132.19 V569.40 H132.37 V569.08 H132.54 V568.76 H132.63 V568.43 H132.78 V568.11 H132.91 V567.79 H133.07 V567.47 H133.26 V567.14 H133.34 V566.82 H133.50 V566.50 H133.71 V566.18 H133.73 V565.85 H133.97 V565.53 H134.15 V565.21 H134.20 V564.89 H134.32 V564.57 H134.59 V564.24 H134.61 V563.92 H134.75 V563.60 H134.94 V563.28 H135.11 V562.95 H135.12 V562.63 H135.27 V562.31 H135.39 V561.99 H135.60 V561.66 H135.65 V561.34 H135.83 V561.02 H135.84 V560.70 H135.98 V560.38 H136.15 V560.05 H136.31 V559.73 H136.35 V559.41 H136.43 V559.09 H136.53 V558.76 H136.72 V558.44 H136.77 V558.12 H137.00 V557.80 H137.12 V557.47 H137.13 V557.15 H137.26 V556.83 H137.47 V556.51 H137.56 V556.19 H137.70 V555.86 H137.74 V555.54 H137.82 V555.22 H137.96 V554.90 H138.17 V554.57 H138.20 V554.25 H138.33 V553.93 H138.46 V553.61 H138.57 V553.28 H138.69 V552.96 H138.88 V552.64 H138.90 V552.32 H138.97 V552.00 H139.25 V551.67 H139.36 V551.35 H139.49 V551.03 H139.51 V550.71 H139.72 V550.38 H139.83 V550.06 H139.83 V549.74 H140.05 V549.42 H140.20 V549.09 H140.29 V548.77 H140.39 V548.45 H140.48 V548.13 H140.62 V547.81 H140.72 V547.48 H140.82 V547.16 H141.05 V546.84 H141.12 V546.52 H141.33 V546.19 H141.35 V545.87 H141.63 V545.55 H141.72 V545.23 H141.89 V544.90 H142.01 V544.58 H142.14 V544.26 H142.21 V543.94 H142.23 V543.62 H142.50 V543.29 H142.52 V542.97 H142.67 V542.65 H142.87 V542.33 H142.97 V542.00 H143.08 V541.68 H143.31 V541.36 H143.38 V541.04 H143.45 V540.71 H143.56 V540.39 H143.81 V540.07 H143.87 V539.75 H144.05 V539.43 H144.10 V539.10 H144.20 V538.78 H144.39 V538.46 H144.58 V538.14 H144.58 V537.81 H144.83 V537.49 H145.00 V537.17 H145.11 V536.85 H145.23 V536.52 H145.26 V536.20 H145.51 V535.88 H145.67 V535.56 H145.70 V535.24 H145.86 V534.91 H146.00 V534.59 H146.20 V534.27 H146.32 V533.95 H146.47 V533.62 H146.66 V533.30 H146.68 V532.98 H146.81 V532.66 H146.97 V532.33 H147.12 V532.01 H147.25 V531.69 H147.59 V531.37 H147.68 V531.05 H147.70 V530.72 H147.91 V530.40 H148.02 V530.08 H148.16 V529.76 H148.31 V529.43 H148.52 V529.11 H148.65 V528.79 H148.74 V528.47 H148.85 V528.14 H149.02 V527.82 H149.12 V527.50 H149.36 V527.18 H149.54 V526.86 H149.61 V526.53 H149.69 V526.21 H149.85 V525.89 H150.08 V525.57 H150.33 V525.24 H150.55 V524.92 H150.62 V524.60 H150.92 V524.28 H151.05 V523.95 H151.17 V523.63 H151.34 V523.31 H151.55 V522.99 H151.78 V522.67 H151.89 V522.34 H152.14 V522.02 H152.26 V521.70 H152.38 V521.38 H152.64 V521.05 H152.86 V520.73 H152.87 V520.41 H153.14 V520.09 H153.32 V519.76 H153.62 V519.44 H153.82 V519.12 H153.85 V518.80 H154.16 V518.48 H154.32 V518.15 H154.35 V517.83 H154.59 V517.51 H154.67 V517.19 H155.04 V516.86 H155.18 V516.54 H155.42 V516.22 H155.57 V515.90 H155.71 V515.57 H155.91 V515.25 H156.05 V514.93 H156.18 V514.61 H156.87 V514.29 H156.92 V513.96 H157.41 V513.64 H158.16 V513.32 H158.19 V513.00 H158.59 V512.67 H158.99 V512.35 H159.85 V512.03 H159.87 V511.71 H160.16 V511.38 H161.02 V511.06 H161.05 V510.74 H161.86 V510.42 H162.16 V510.10 H162.75 V509.77 H163.31 V509.45 H163.53 V509.13 H164.10 V508.81 H164.17 V508.48 H165.11 V508.16 H165.41 V507.84 H166.04 V507.52 H166.08 V507.19 H167.03 V506.87 H167.50 V506.55 H167.65 V506.23 H168.18 V505.91 H168.83 V505.58 H169.51 V505.26 H169.57 V504.94 H170.01 V504.62 H170.54 V504.29 H171.29 V503.97 H171.87 V503.65 H172.09 V503.33 H172.56 V503.00 H173.06 V502.68 H173.51 V502.36 H174.05 V502.04 H174.29 V501.72 H175.07 V501.39 H175.90 V501.07 H175.98 V500.75 H176.70 V500.43 H176.76 V500.10 H177.73 V499.78 H178.38 V499.46 H178.89 V499.14 H179.34 V498.81 H179.89 V498.49 H180.62 V498.17 H181.36 V497.85 H181.43 V497.53 H181.90 V497.20 H183.06 V496.88 H183.79 V496.56 H184.03 V496.24 H184.55 V495.91 H185.38 V495.59 H185.49 V495.27 H186.15 V494.95 H186.68 V494.62 H187.72 V494.30 H188.15 V493.98 H188.77 V493.66 H189.98 V493.34 H190.98 V493.01 H190.99 V492.69 H192.15 V492.37 H192.55 V492.05 H193.74 V491.72 H194.17 V491.40 H194.54 V491.08 H195.21 V490.76 H195.71 V490.43 H196.92 V490.11 H198.20 V489.79 H199.31 V489.47 H201.37 V489.15 H202.89 V488.82 H205.60 V488.50 H205.68 V488.18 H209.69 V487.86 H210.12 V487.53 H212.29 V487.21 H213.77 V486.89 H216.63 V486.57 H218.23 V486.24 H219.21 V485.92 H223.05 V485.60 H223.7" fill="none" stroke="#33b3e6" stroke-width="1.1" stroke-linejoin="round"/>
<text x="178.8" y="554.1" font-size="9.0" fill="#35ade2" textLength="31.4" lengthAdjust="spacingAndGlyphs">Systolic</text>
<text x="171.7" y="564.7" font-size="9.0" fill="#35ade2" textLength="48.8" lengthAdjust="spacingAndGlyphs">heart failure</text>
<line x1="293.0" y1="611.3" x2="299.2" y2="611.3" stroke="#8a8a8a" stroke-width="0.8"/>
<text x="287.7" y="614.3" font-size="8.8" fill="#444" text-anchor="end" textLength="5.0" lengthAdjust="spacingAndGlyphs">0</text>
<line x1="293.0" y1="586.2" x2="299.2" y2="586.2" stroke="#8a8a8a" stroke-width="0.8"/>
<text x="287.7" y="589.2" font-size="8.8" fill="#444" text-anchor="end" textLength="12.4" lengthAdjust="spacingAndGlyphs">0.2</text>
<line x1="293.0" y1="561.0" x2="299.2" y2="561.0" stroke="#8a8a8a" stroke-width="0.8"/>
<text x="287.7" y="564.0" font-size="8.8" fill="#444" text-anchor="end" textLength="12.4" lengthAdjust="spacingAndGlyphs">0.4</text>
<line x1="293.0" y1="535.9" x2="299.2" y2="535.9" stroke="#8a8a8a" stroke-width="0.8"/>
<text x="287.7" y="538.9" font-size="8.8" fill="#444" text-anchor="end" textLength="12.4" lengthAdjust="spacingAndGlyphs">0.6</text>
<line x1="293.0" y1="510.7" x2="299.2" y2="510.7" stroke="#8a8a8a" stroke-width="0.8"/>
<text x="287.7" y="513.7" font-size="8.8" fill="#444" text-anchor="end" textLength="12.4" lengthAdjust="spacingAndGlyphs">0.8</text>
<line x1="293.0" y1="485.6" x2="299.2" y2="485.6" stroke="#8a8a8a" stroke-width="0.8"/>
<text x="287.7" y="488.6" font-size="8.8" fill="#444" text-anchor="end" textLength="12.4" lengthAdjust="spacingAndGlyphs">1.0</text>
<line x1="299.2" y1="480.6" x2="299.2" y2="616.1" stroke="#555" stroke-width="0.9"/>
<line x1="299.2" y1="616.1" x2="462.1" y2="616.1" stroke="#555" stroke-width="0.9"/>
<line x1="319.1" y1="616.1" x2="319.1" y2="621.4" stroke="#8a8a8a" stroke-width="0.8"/>
<text x="319.1" y="633.1" font-size="8.8" fill="#444" text-anchor="middle" textLength="10.2" lengthAdjust="spacingAndGlyphs">−2</text>
<line x1="342.3" y1="616.1" x2="342.3" y2="621.4" stroke="#8a8a8a" stroke-width="0.8"/>
<text x="342.3" y="633.1" font-size="8.8" fill="#444" text-anchor="middle" textLength="10.2" lengthAdjust="spacingAndGlyphs">−1</text>
<line x1="365.5" y1="616.1" x2="365.5" y2="621.4" stroke="#8a8a8a" stroke-width="0.8"/>
<text x="365.5" y="633.1" font-size="8.8" fill="#444" text-anchor="middle" textLength="5.0" lengthAdjust="spacingAndGlyphs">0</text>
<line x1="388.7" y1="616.1" x2="388.7" y2="621.4" stroke="#8a8a8a" stroke-width="0.8"/>
<text x="388.7" y="633.1" font-size="8.8" fill="#444" text-anchor="middle" textLength="5.0" lengthAdjust="spacingAndGlyphs">1</text>
<line x1="411.9" y1="616.1" x2="411.9" y2="621.4" stroke="#8a8a8a" stroke-width="0.8"/>
<text x="411.9" y="633.1" font-size="8.8" fill="#444" text-anchor="middle" textLength="5.0" lengthAdjust="spacingAndGlyphs">2</text>
<line x1="435.1" y1="616.1" x2="435.1" y2="621.4" stroke="#8a8a8a" stroke-width="0.8"/>
<text x="435.1" y="633.1" font-size="8.8" fill="#444" text-anchor="middle" textLength="5.0" lengthAdjust="spacingAndGlyphs">3</text>
<line x1="458.3" y1="616.1" x2="458.3" y2="621.4" stroke="#8a8a8a" stroke-width="0.8"/>
<text x="458.3" y="633.1" font-size="8.8" fill="#444" text-anchor="middle" textLength="5.0" lengthAdjust="spacingAndGlyphs">4</text>
<text x="267.4" y="624.2" font-size="10.2" fill="#333" textLength="51.0" lengthAdjust="spacingAndGlyphs" transform="rotate(-90 267.4 624.2)">Cumulative</text>
<text x="267.4" y="570.9" font-size="10.2" fill="#333" textLength="57.3" lengthAdjust="spacingAndGlyphs" transform="rotate(-90 267.4 570.9)">distribution</text>
<text x="267.4" y="510.7" font-size="10.2" fill="#333" textLength="38.2" lengthAdjust="spacingAndGlyphs" transform="rotate(-90 267.4 510.7)">function</text>
<text x="300.9" y="649.8" font-size="10.0" fill="#333" textLength="159.6" lengthAdjust="spacingAndGlyphs">log<tspan font-size="7" dy="2">2</tspan><tspan dy="-2">(fold change: patient/control)</tspan></text>
<text x="302.0" y="461.9" font-size="8.6" fill="#333" textLength="52.3" lengthAdjust="spacingAndGlyphs"><tspan font-style="italic">P</tspan> = 7.4 × 10<tspan font-size="5.6" dy="-3.6">−35</tspan></text>
<text x="302.0" y="472.5" font-size="8.6" fill="#333" textLength="127.6" lengthAdjust="spacingAndGlyphs">Median log<tspan font-size="6" dy="2">2</tspan><tspan dy="-2">(fold change) = 2.04</tspan></text>
<line x1="304.3" y1="493.8" x2="313.5" y2="493.8" stroke="#33b3e6" stroke-width="1.1"/>
<line x1="304.3" y1="506.4" x2="313.5" y2="506.4" stroke="#222" stroke-width="1.1"/>
<text x="319.3" y="496.7" font-size="8.8" fill="#333" textLength="21.0" lengthAdjust="spacingAndGlyphs"><tspan font-style="italic">n</tspan> = 71</text>
<text x="319.3" y="509.3" font-size="8.8" fill="#333" textLength="39.3" lengthAdjust="spacingAndGlyphs"><tspan font-style="italic">n</tspan> = 13,289</text>
<path d="M299.0,610.3 C301.1,610.1 308.1,609.6 311.9,609.1 C315.7,608.5 318.9,607.9 321.8,607.1 C324.7,606.3 326.8,605.4 329.3,604.1 C331.7,602.8 334.2,601.4 336.7,599.1 C339.2,596.9 341.7,594.0 344.2,590.4 C346.6,586.9 349.1,583.0 351.6,578.0 C354.1,573.1 356.6,566.9 359.1,560.7 C361.5,554.5 364.0,547.2 366.5,540.8 C369.0,534.4 371.5,527.8 373.9,522.2 C376.4,516.6 378.9,511.2 381.4,507.3 C383.9,503.4 386.4,500.9 388.8,498.6 C391.3,496.3 393.4,495.1 396.3,493.7 C399.2,492.2 402.1,491.0 406.2,489.9 C410.3,488.9 415.3,488.1 421.1,487.4 C426.9,486.8 434.1,486.4 441.0,486.0 C447.8,485.5 458.5,485.1 462.1,485.0" fill="none" stroke="#2a2a2a" stroke-width="1.1" stroke-linejoin="round"/>
<path d="M299.2,611.3 H344.16 V609.53 H362.03 V607.76 H362.93 V605.99 H364.30 V604.22 H365.50 V602.45 H366.02 V600.68 H367.30 V598.91 H370.50 V597.14 H371.43 V595.37 H374.65 V593.60 H380.32 V591.83 H380.97 V590.05 H383.26 V588.28 H384.47 V586.51 H386.23 V584.74 H386.62 V582.97 H388.10 V581.20 H390.83 V579.43 H391.83 V577.66 H393.27 V575.89 H395.08 V574.12 H396.12 V572.35 H398.49 V570.58 H399.17 V568.81 H399.58 V567.04 H399.97 V565.27 H401.53 V563.50 H402.82 V561.73 H404.53 V559.96 H405.67 V558.19 H406.55 V556.42 H407.98 V554.65 H408.55 V552.88 H410.11 V551.11 H410.51 V549.34 H411.44 V547.56 H412.07 V545.79 H412.23 V544.02 H412.96 V542.25 H413.74 V540.48 H415.29 V538.71 H415.71 V536.94 H416.76 V535.17 H417.36 V533.40 H418.43 V531.63 H419.01 V529.86 H419.58 V528.09 H420.31 V526.32 H420.90 V524.55 H422.25 V522.78 H423.17 V521.01 H424.64 V519.24 H425.74 V517.47 H426.82 V515.70 H427.42 V513.93 H427.86 V512.16 H429.36 V510.39 H430.34 V508.62 H431.18 V506.85 H431.81 V505.07 H432.89 V503.30 H433.33 V501.53 H434.70 V499.76 H435.33 V497.99 H435.94 V496.22 H436.41 V494.45 H439.37 V492.68 H446.04 V490.91 H446.13 V489.14 H451.98 V487.37 H456.58 V485.60 H462.1" fill="none" stroke="#33b3e6" stroke-width="1.1" stroke-linejoin="round"/>
<text x="412.4" y="579.2" font-size="9.0" fill="#35ade2" textLength="42.3" lengthAdjust="spacingAndGlyphs">Fetal heart</text>
<text x="410.7" y="589.5" font-size="9.0" fill="#35ade2" textLength="48.9" lengthAdjust="spacingAndGlyphs">myeloid cell</text>
</svg>
</body></html>
